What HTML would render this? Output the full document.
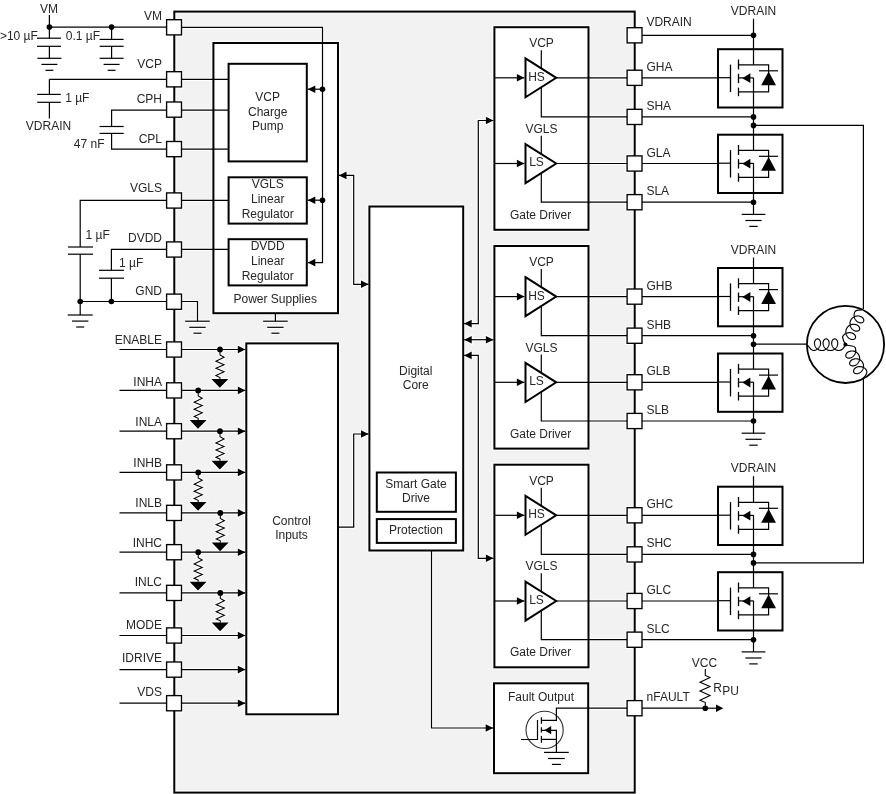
<!DOCTYPE html>
<html><head><meta charset="utf-8"><style>
html,body{margin:0;padding:0;background:#fff;}
svg{display:block;will-change:transform;}
text{font-family:"Liberation Sans",sans-serif;}
</style></head><body>
<svg width="886" height="794" viewBox="0 0 886 794">
<rect width="886" height="794" fill="#fff"/>
<rect x="174.3" y="11.6" width="460.4" height="781" fill="#f2f2f2" stroke="#000" stroke-width="2"/>
<rect x="174.3" y="11.6" width="460.4" height="781" fill="none" stroke="#fff" stroke-width="4"/>
<line x1="49.4" y1="15" x2="49.4" y2="38.2" stroke="#fff" stroke-width="3.2"/>
<line x1="49.4" y1="27.1" x2="174" y2="27.1" stroke="#fff" stroke-width="3.2"/>
<circle cx="49.4" cy="27.1" r="3.8" fill="#fff"/>
<circle cx="111.6" cy="27.1" r="3.8" fill="#fff"/>
<line x1="37" y1="38.2" x2="61" y2="38.2" stroke="#fff" stroke-width="3.2"/>
<line x1="37" y1="46.3" x2="61" y2="46.3" stroke="#fff" stroke-width="3.2"/>
<line x1="49.4" y1="46.3" x2="49.4" y2="58.3" stroke="#fff" stroke-width="3.2"/>
<line x1="37.4" y1="58.3" x2="61.4" y2="58.3" stroke="#fff" stroke-width="3.2"/>
<line x1="41.4" y1="64.39999999999999" x2="57.4" y2="64.39999999999999" stroke="#fff" stroke-width="3.2"/>
<line x1="45.4" y1="70.3" x2="53.4" y2="70.3" stroke="#fff" stroke-width="3.2"/>
<line x1="111.6" y1="27.1" x2="111.6" y2="39.4" stroke="#fff" stroke-width="3.2"/>
<line x1="99.6" y1="39.4" x2="123.6" y2="39.4" stroke="#fff" stroke-width="3.2"/>
<line x1="99.6" y1="46.3" x2="123.6" y2="46.3" stroke="#fff" stroke-width="3.2"/>
<line x1="111.6" y1="46.3" x2="111.6" y2="58.3" stroke="#fff" stroke-width="3.2"/>
<line x1="99.6" y1="58.3" x2="123.6" y2="58.3" stroke="#fff" stroke-width="3.2"/>
<line x1="103.6" y1="64.39999999999999" x2="119.6" y2="64.39999999999999" stroke="#fff" stroke-width="3.2"/>
<line x1="107.6" y1="70.3" x2="115.6" y2="70.3" stroke="#fff" stroke-width="3.2"/>
<line x1="49.4" y1="79.3" x2="174" y2="79.3" stroke="#fff" stroke-width="3.2"/>
<line x1="49.4" y1="79.3" x2="49.4" y2="94.4" stroke="#fff" stroke-width="3.2"/>
<line x1="37.2" y1="94.4" x2="60.8" y2="94.4" stroke="#fff" stroke-width="3.2"/>
<line x1="37.2" y1="102.3" x2="60.8" y2="102.3" stroke="#fff" stroke-width="3.2"/>
<line x1="49.4" y1="102.3" x2="49.4" y2="118.6" stroke="#fff" stroke-width="3.2"/>
<polyline points="174,110.2 111.6,110.2 111.6,126.5" fill="none" stroke="#fff" stroke-width="3.2" stroke-linejoin="miter"/>
<line x1="99.6" y1="126.5" x2="123.7" y2="126.5" stroke="#fff" stroke-width="3.2"/>
<line x1="99.6" y1="133.4" x2="123.7" y2="133.4" stroke="#fff" stroke-width="3.2"/>
<polyline points="111.6,133.4 111.6,149.2 174,149.2" fill="none" stroke="#fff" stroke-width="3.2" stroke-linejoin="miter"/>
<polyline points="174,200.3 80.2,200.3 80.2,247" fill="none" stroke="#fff" stroke-width="3.2" stroke-linejoin="miter"/>
<line x1="68" y1="247" x2="93" y2="247" stroke="#fff" stroke-width="3.2"/>
<line x1="68" y1="254.2" x2="93" y2="254.2" stroke="#fff" stroke-width="3.2"/>
<line x1="80.2" y1="254.2" x2="80.2" y2="315" stroke="#fff" stroke-width="3.2"/>
<line x1="67.7" y1="315" x2="92.7" y2="315" stroke="#fff" stroke-width="3.2"/>
<line x1="72.0" y1="321.1" x2="88.4" y2="321.1" stroke="#fff" stroke-width="3.2"/>
<line x1="76.2" y1="327.0" x2="84.2" y2="327.0" stroke="#fff" stroke-width="3.2"/>
<polyline points="174,249.3 111.4,249.3 111.4,270.3" fill="none" stroke="#fff" stroke-width="3.2" stroke-linejoin="miter"/>
<line x1="99" y1="270.3" x2="124" y2="270.3" stroke="#fff" stroke-width="3.2"/>
<line x1="99" y1="278.2" x2="124" y2="278.2" stroke="#fff" stroke-width="3.2"/>
<line x1="111.4" y1="278.2" x2="111.4" y2="301.5" stroke="#fff" stroke-width="3.2"/>
<line x1="80.2" y1="301.5" x2="174" y2="301.5" stroke="#fff" stroke-width="3.2"/>
<circle cx="80.2" cy="301.5" r="3.8" fill="#fff"/>
<circle cx="111.4" cy="301.5" r="3.8" fill="#fff"/>
<polyline points="174,301.5 197.5,301.5 197.5,321.2" fill="none" stroke="#fff" stroke-width="3.2" stroke-linejoin="miter"/>
<line x1="185.2" y1="321.2" x2="209.8" y2="321.2" stroke="#fff" stroke-width="3.2"/>
<line x1="189.3" y1="327.3" x2="205.7" y2="327.3" stroke="#fff" stroke-width="3.2"/>
<line x1="193.5" y1="333.2" x2="201.5" y2="333.2" stroke="#fff" stroke-width="3.2"/>
<rect x="213.4" y="43" width="124.60" height="270.20" fill="#fff" stroke="#fff" stroke-width="4.0"/>
<line x1="263.09999999999997" y1="321.2" x2="287.7" y2="321.2" stroke="#fff" stroke-width="3.2"/>
<line x1="267.2" y1="327.3" x2="283.59999999999997" y2="327.3" stroke="#fff" stroke-width="3.2"/>
<line x1="271.4" y1="333.2" x2="279.4" y2="333.2" stroke="#fff" stroke-width="3.2"/>
<line x1="275.4" y1="313.2" x2="275.4" y2="321.2" stroke="#fff" stroke-width="3.2"/>
<rect x="228.6" y="63.8" width="78.20" height="97.60" fill="#fff" stroke="#fff" stroke-width="4.0"/>
<rect x="228.6" y="177.3" width="78.20" height="46.30" fill="#fff" stroke="#fff" stroke-width="4.0"/>
<rect x="228.6" y="239.2" width="78.20" height="46.20" fill="#fff" stroke="#fff" stroke-width="4.0"/>
<line x1="181.3" y1="79.4" x2="228.6" y2="79.4" stroke="#fff" stroke-width="3.2"/>
<line x1="181.3" y1="110.2" x2="228.6" y2="110.2" stroke="#fff" stroke-width="3.2"/>
<line x1="181.3" y1="149.2" x2="228.6" y2="149.2" stroke="#fff" stroke-width="3.2"/>
<line x1="181.3" y1="200.3" x2="228.6" y2="200.3" stroke="#fff" stroke-width="3.2"/>
<line x1="181.3" y1="249.3" x2="228.6" y2="249.3" stroke="#fff" stroke-width="3.2"/>
<polyline points="181.3,27.4 322.5,27.4 322.5,262.6 307.8,262.6" fill="none" stroke="#fff" stroke-width="3.2" stroke-linejoin="miter"/>
<line x1="307.8" y1="89.2" x2="322.5" y2="89.2" stroke="#fff" stroke-width="3.2"/>
<line x1="307.8" y1="200.2" x2="322.5" y2="200.2" stroke="#fff" stroke-width="3.2"/>
<circle cx="322.5" cy="89.2" r="3.8" fill="#fff"/>
<circle cx="322.5" cy="200.2" r="3.8" fill="#fff"/>
<polygon points="307.8,89.2 315.3,85.4 315.3,93.0" fill="#fff" stroke="#fff" stroke-width="2.0"/>
<polygon points="307.8,200.2 315.3,196.39999999999998 315.3,204.0" fill="#fff" stroke="#fff" stroke-width="2.0"/>
<polygon points="307.8,262.6 315.3,258.8 315.3,266.40000000000003" fill="#fff" stroke="#fff" stroke-width="2.0"/>
<polyline points="339,175.4 353.7,175.4 353.7,284.3 368.5,284.3" fill="none" stroke="#fff" stroke-width="3.2" stroke-linejoin="miter"/>
<polygon points="339,175.4 346.5,171.6 346.5,179.20000000000002" fill="#fff" stroke="#fff" stroke-width="2.0"/>
<polygon points="368.5,284.3 361.0,280.5 361.0,288.1" fill="#fff" stroke="#fff" stroke-width="2.0"/>
<rect x="246.3" y="343.4" width="91.70" height="370.90" fill="#fff" stroke="#fff" stroke-width="4.0"/>
<polyline points="338,527.2 353.7,527.2 353.7,434 368.5,434" fill="none" stroke="#fff" stroke-width="3.2" stroke-linejoin="miter"/>
<polygon points="368.5,434 361.0,430.2 361.0,437.8" fill="#fff" stroke="#fff" stroke-width="2.0"/>
<line x1="119.5" y1="349.5" x2="174" y2="349.5" stroke="#fff" stroke-width="3.2"/>
<line x1="181.3" y1="349.5" x2="245.3" y2="349.5" stroke="#fff" stroke-width="3.2"/>
<polygon points="245.3,349.5 237.8,345.7 237.8,353.3" fill="#fff" stroke="#fff" stroke-width="2.0"/>
<circle cx="220" cy="349.5" r="3.9" fill="#fff"/>
<polyline points="220,349.5 220,355.0 224.1,357.3 215.9,361.3 224.1,364.7 215.9,368.3 224.1,371.8 215.9,375.5 220,377.5 220,379.1" fill="none" stroke="#fff" stroke-width="3.05" stroke-linejoin="miter"/>
<polygon points="211.4,379.1 228.4,379.1 219.8,387.8" fill="#fff" stroke="#fff" stroke-width="2.0"/>
<line x1="119.5" y1="390.4" x2="174" y2="390.4" stroke="#fff" stroke-width="3.2"/>
<line x1="181.3" y1="390.4" x2="245.3" y2="390.4" stroke="#fff" stroke-width="3.2"/>
<polygon points="245.3,390.4 237.8,386.59999999999997 237.8,394.2" fill="#fff" stroke="#fff" stroke-width="2.0"/>
<circle cx="198.2" cy="390.4" r="3.9" fill="#fff"/>
<polyline points="198.2,390.4 198.2,395.9 202.29999999999998,398.2 194.1,402.2 202.29999999999998,405.59999999999997 194.1,409.2 202.29999999999998,412.7 194.1,416.4 198.2,418.4 198.2,420.0" fill="none" stroke="#fff" stroke-width="3.05" stroke-linejoin="miter"/>
<polygon points="189.6,420.0 206.6,420.0 198.0,428.7" fill="#fff" stroke="#fff" stroke-width="2.0"/>
<line x1="119.5" y1="431.2" x2="174" y2="431.2" stroke="#fff" stroke-width="3.2"/>
<line x1="181.3" y1="431.2" x2="245.3" y2="431.2" stroke="#fff" stroke-width="3.2"/>
<polygon points="245.3,431.2 237.8,427.4 237.8,435.0" fill="#fff" stroke="#fff" stroke-width="2.0"/>
<circle cx="220" cy="431.2" r="3.9" fill="#fff"/>
<polyline points="220,431.2 220,436.7 224.1,439.0 215.9,443.0 224.1,446.4 215.9,450.0 224.1,453.5 215.9,457.2 220,459.2 220,460.8" fill="none" stroke="#fff" stroke-width="3.05" stroke-linejoin="miter"/>
<polygon points="211.4,460.8 228.4,460.8 219.8,469.5" fill="#fff" stroke="#fff" stroke-width="2.0"/>
<line x1="119.5" y1="472.4" x2="174" y2="472.4" stroke="#fff" stroke-width="3.2"/>
<line x1="181.3" y1="472.4" x2="245.3" y2="472.4" stroke="#fff" stroke-width="3.2"/>
<polygon points="245.3,472.4 237.8,468.59999999999997 237.8,476.2" fill="#fff" stroke="#fff" stroke-width="2.0"/>
<circle cx="198.2" cy="472.4" r="3.9" fill="#fff"/>
<polyline points="198.2,472.4 198.2,477.9 202.29999999999998,480.2 194.1,484.2 202.29999999999998,487.59999999999997 194.1,491.2 202.29999999999998,494.7 194.1,498.4 198.2,500.4 198.2,502.0" fill="none" stroke="#fff" stroke-width="3.05" stroke-linejoin="miter"/>
<polygon points="189.6,502.0 206.6,502.0 198.0,510.7" fill="#fff" stroke="#fff" stroke-width="2.0"/>
<line x1="119.5" y1="512.9" x2="174" y2="512.9" stroke="#fff" stroke-width="3.2"/>
<line x1="181.3" y1="512.9" x2="245.3" y2="512.9" stroke="#fff" stroke-width="3.2"/>
<polygon points="245.3,512.9 237.8,509.09999999999997 237.8,516.6999999999999" fill="#fff" stroke="#fff" stroke-width="2.0"/>
<circle cx="220.3" cy="512.9" r="3.9" fill="#fff"/>
<polyline points="220.3,512.9 220.3,518.4 224.4,520.6999999999999 216.20000000000002,524.6999999999999 224.4,528.1 216.20000000000002,531.6999999999999 224.4,535.1999999999999 216.20000000000002,538.9 220.3,540.9 220.3,542.5" fill="none" stroke="#fff" stroke-width="3.05" stroke-linejoin="miter"/>
<polygon points="211.70000000000002,542.5 228.70000000000002,542.5 220.10000000000002,551.1999999999999" fill="#fff" stroke="#fff" stroke-width="2.0"/>
<line x1="119.5" y1="552.2" x2="174" y2="552.2" stroke="#fff" stroke-width="3.2"/>
<line x1="181.3" y1="552.2" x2="245.3" y2="552.2" stroke="#fff" stroke-width="3.2"/>
<polygon points="245.3,552.2 237.8,548.4000000000001 237.8,556.0" fill="#fff" stroke="#fff" stroke-width="2.0"/>
<circle cx="198.2" cy="552.2" r="3.9" fill="#fff"/>
<polyline points="198.2,552.2 198.2,557.7 202.29999999999998,560.0 194.1,564.0 202.29999999999998,567.4000000000001 194.1,571.0 202.29999999999998,574.5 194.1,578.2 198.2,580.2 198.2,581.8000000000001" fill="none" stroke="#fff" stroke-width="3.05" stroke-linejoin="miter"/>
<polygon points="189.6,581.8000000000001 206.6,581.8000000000001 198.0,590.5" fill="#fff" stroke="#fff" stroke-width="2.0"/>
<line x1="119.5" y1="592.9" x2="174" y2="592.9" stroke="#fff" stroke-width="3.2"/>
<line x1="181.3" y1="592.9" x2="245.3" y2="592.9" stroke="#fff" stroke-width="3.2"/>
<polygon points="245.3,592.9 237.8,589.1 237.8,596.6999999999999" fill="#fff" stroke="#fff" stroke-width="2.0"/>
<circle cx="220.3" cy="592.9" r="3.9" fill="#fff"/>
<polyline points="220.3,592.9 220.3,598.4 224.4,600.6999999999999 216.20000000000002,604.6999999999999 224.4,608.1 216.20000000000002,611.6999999999999 224.4,615.1999999999999 216.20000000000002,618.9 220.3,620.9 220.3,622.5" fill="none" stroke="#fff" stroke-width="3.05" stroke-linejoin="miter"/>
<polygon points="211.70000000000002,622.5 228.70000000000002,622.5 220.10000000000002,631.1999999999999" fill="#fff" stroke="#fff" stroke-width="2.0"/>
<line x1="119.5" y1="635.5" x2="174" y2="635.5" stroke="#fff" stroke-width="3.2"/>
<line x1="181.3" y1="635.5" x2="245.3" y2="635.5" stroke="#fff" stroke-width="3.2"/>
<polygon points="245.3,635.5 237.8,631.7 237.8,639.3" fill="#fff" stroke="#fff" stroke-width="2.0"/>
<line x1="119.5" y1="669.6" x2="174" y2="669.6" stroke="#fff" stroke-width="3.2"/>
<line x1="181.3" y1="669.6" x2="245.3" y2="669.6" stroke="#fff" stroke-width="3.2"/>
<polygon points="245.3,669.6 237.8,665.8000000000001 237.8,673.4" fill="#fff" stroke="#fff" stroke-width="2.0"/>
<line x1="119.5" y1="703.2" x2="174" y2="703.2" stroke="#fff" stroke-width="3.2"/>
<line x1="181.3" y1="703.2" x2="245.3" y2="703.2" stroke="#fff" stroke-width="3.2"/>
<polygon points="245.3,703.2 237.8,699.4000000000001 237.8,707.0" fill="#fff" stroke="#fff" stroke-width="2.0"/>
<rect x="166.6" y="19.700000000000003" width="14.90" height="15.20" fill="#fff" stroke="#fff" stroke-width="3.35"/>
<rect x="166.6" y="71.7" width="14.90" height="15.20" fill="#fff" stroke="#fff" stroke-width="3.35"/>
<rect x="166.6" y="102.0" width="14.90" height="15.20" fill="#fff" stroke="#fff" stroke-width="3.35"/>
<rect x="166.6" y="141.5" width="14.90" height="15.20" fill="#fff" stroke="#fff" stroke-width="3.35"/>
<rect x="166.6" y="192.9" width="14.90" height="15.20" fill="#fff" stroke="#fff" stroke-width="3.35"/>
<rect x="166.6" y="241.9" width="14.90" height="15.20" fill="#fff" stroke="#fff" stroke-width="3.35"/>
<rect x="166.6" y="294.09999999999997" width="14.90" height="15.20" fill="#fff" stroke="#fff" stroke-width="3.35"/>
<rect x="166.6" y="341.9" width="14.90" height="15.20" fill="#fff" stroke="#fff" stroke-width="3.35"/>
<rect x="166.6" y="382.79999999999995" width="14.90" height="15.20" fill="#fff" stroke="#fff" stroke-width="3.35"/>
<rect x="166.6" y="423.59999999999997" width="14.90" height="15.20" fill="#fff" stroke="#fff" stroke-width="3.35"/>
<rect x="166.6" y="464.79999999999995" width="14.90" height="15.20" fill="#fff" stroke="#fff" stroke-width="3.35"/>
<rect x="166.6" y="505.29999999999995" width="14.90" height="15.20" fill="#fff" stroke="#fff" stroke-width="3.35"/>
<rect x="166.6" y="544.6" width="14.90" height="15.20" fill="#fff" stroke="#fff" stroke-width="3.35"/>
<rect x="166.6" y="585.3" width="14.90" height="15.20" fill="#fff" stroke="#fff" stroke-width="3.35"/>
<rect x="166.6" y="627.9" width="14.90" height="15.20" fill="#fff" stroke="#fff" stroke-width="3.35"/>
<rect x="166.6" y="662.0" width="14.90" height="15.20" fill="#fff" stroke="#fff" stroke-width="3.35"/>
<rect x="166.6" y="695.6" width="14.90" height="15.20" fill="#fff" stroke="#fff" stroke-width="3.35"/>
<rect x="369.4" y="206.5" width="93.80" height="344.00" fill="#fff" stroke="#fff" stroke-width="4.0"/>
<rect x="376.8" y="472.5" width="79.10" height="39.30" fill="#fff" stroke="#fff" stroke-width="4.0"/>
<rect x="376.8" y="519.1" width="79.10" height="23.80" fill="#fff" stroke="#fff" stroke-width="4.0"/>
<polyline points="464.2,323.6 478.3,323.6 478.3,120.5 493.4,120.5" fill="none" stroke="#fff" stroke-width="3.2" stroke-linejoin="miter"/>
<polygon points="464.2,323.6 471.7,319.8 471.7,327.40000000000003" fill="#fff" stroke="#fff" stroke-width="2.0"/>
<polygon points="493.4,120.5 485.9,116.7 485.9,124.3" fill="#fff" stroke="#fff" stroke-width="2.0"/>
<line x1="464.2" y1="339.7" x2="493.4" y2="339.7" stroke="#fff" stroke-width="3.2"/>
<polygon points="464.2,339.7 471.7,335.9 471.7,343.5" fill="#fff" stroke="#fff" stroke-width="2.0"/>
<polygon points="493.4,339.7 485.9,335.9 485.9,343.5" fill="#fff" stroke="#fff" stroke-width="2.0"/>
<polyline points="464.2,355.4 478.3,355.4 478.3,558.3 493.4,558.3" fill="none" stroke="#fff" stroke-width="3.2" stroke-linejoin="miter"/>
<polygon points="464.2,355.4 471.7,351.59999999999997 471.7,359.2" fill="#fff" stroke="#fff" stroke-width="2.0"/>
<polygon points="493.4,558.3 485.9,554.5 485.9,562.0999999999999" fill="#fff" stroke="#fff" stroke-width="2.0"/>
<polyline points="431.5,550.5 431.5,728 493.2,728" fill="none" stroke="#fff" stroke-width="3.2" stroke-linejoin="miter"/>
<polygon points="493.2,728 485.7,724.2 485.7,731.8" fill="#fff" stroke="#fff" stroke-width="2.0"/>
<rect x="494.4" y="27.2" width="94.10" height="202.60" fill="#fff" stroke="#fff" stroke-width="4.0"/>
<line x1="541.3" y1="50.3" x2="541.3" y2="68.3" stroke="#fff" stroke-width="3.2"/>
<line x1="494.4" y1="77.8" x2="524.4" y2="77.8" stroke="#fff" stroke-width="3.2"/>
<polygon points="524.4,77.8 516.9,74.0 516.9,81.6" fill="#fff" stroke="#fff" stroke-width="2.0"/>
<line x1="556.2" y1="77.8" x2="718" y2="77.8" stroke="#fff" stroke-width="3.2"/>
<polyline points="541.3,87.35 541.3,116.9 753.5,116.9" fill="none" stroke="#fff" stroke-width="3.2" stroke-linejoin="miter"/>
<line x1="541.3" y1="135.7" x2="541.3" y2="154.0" stroke="#fff" stroke-width="3.2"/>
<line x1="494.4" y1="163.5" x2="524.4" y2="163.5" stroke="#fff" stroke-width="3.2"/>
<polygon points="524.4,163.5 516.9,159.7 516.9,167.3" fill="#fff" stroke="#fff" stroke-width="2.0"/>
<line x1="556.2" y1="163.5" x2="718" y2="163.5" stroke="#fff" stroke-width="3.2"/>
<polyline points="541.3,173.15 541.3,202.2 753.5,202.2" fill="none" stroke="#fff" stroke-width="3.2" stroke-linejoin="miter"/>
<rect x="718" y="49.199999999999996" width="64.50" height="58.30" fill="#fff" stroke="#fff" stroke-width="4.0"/>
<line x1="730.5" y1="64.6" x2="730.5" y2="92.1" stroke="#fff" stroke-width="3.3"/>
<line x1="717" y1="77.69999999999999" x2="730.5" y2="77.69999999999999" stroke="#fff" stroke-width="3.2"/>
<line x1="738.5" y1="59.5" x2="738.5" y2="69.5" stroke="#fff" stroke-width="3.3"/>
<line x1="738.5" y1="73.69999999999999" x2="738.5" y2="83.1" stroke="#fff" stroke-width="3.3"/>
<line x1="738.5" y1="87.6" x2="738.5" y2="96.19999999999999" stroke="#fff" stroke-width="3.3"/>
<polyline points="738.5,64.8 768.6,64.8 768.6,91.8 738.5,91.8" fill="none" stroke="#fff" stroke-width="3.2" stroke-linejoin="miter"/>
<line x1="738.5" y1="77.89999999999999" x2="753.5" y2="77.89999999999999" stroke="#fff" stroke-width="3.2"/>
<polygon points="742.3,78.19999999999999 750.4,73.3 750.4,83.1" fill="#fff" stroke="#fff" stroke-width="2.0"/>
<line x1="759" y1="70.8" x2="778" y2="70.8" stroke="#fff" stroke-width="3.2"/>
<polygon points="768.6,71.39999999999999 761.2,85.19999999999999 776,85.19999999999999" fill="#fff" stroke="#fff" stroke-width="2.0"/>
<rect x="718" y="134.7" width="64.50" height="58.30" fill="#fff" stroke="#fff" stroke-width="4.0"/>
<line x1="730.5" y1="150.1" x2="730.5" y2="177.6" stroke="#fff" stroke-width="3.3"/>
<line x1="717" y1="163.2" x2="730.5" y2="163.2" stroke="#fff" stroke-width="3.2"/>
<line x1="738.5" y1="145.0" x2="738.5" y2="155.0" stroke="#fff" stroke-width="3.3"/>
<line x1="738.5" y1="159.2" x2="738.5" y2="168.6" stroke="#fff" stroke-width="3.3"/>
<line x1="738.5" y1="173.1" x2="738.5" y2="181.7" stroke="#fff" stroke-width="3.3"/>
<polyline points="738.5,150.29999999999998 768.6,150.29999999999998 768.6,177.29999999999998 738.5,177.29999999999998" fill="none" stroke="#fff" stroke-width="3.2" stroke-linejoin="miter"/>
<line x1="738.5" y1="163.39999999999998" x2="753.5" y2="163.39999999999998" stroke="#fff" stroke-width="3.2"/>
<polygon points="742.3,163.7 750.4,158.79999999999998 750.4,168.6" fill="#fff" stroke="#fff" stroke-width="2.0"/>
<line x1="759" y1="156.29999999999998" x2="778" y2="156.29999999999998" stroke="#fff" stroke-width="3.2"/>
<polygon points="768.6,156.89999999999998 761.2,170.7 776,170.7" fill="#fff" stroke="#fff" stroke-width="2.0"/>
<line x1="753.5" y1="77.69999999999999" x2="753.5" y2="116.9" stroke="#fff" stroke-width="3.2"/>
<line x1="753.5" y1="116.9" x2="753.5" y2="150.2" stroke="#fff" stroke-width="3.2"/>
<line x1="753.5" y1="163.2" x2="753.5" y2="214.39999999999998" stroke="#fff" stroke-width="3.2"/>
<circle cx="753.5" cy="116.9" r="3.8" fill="#fff"/>
<circle cx="753.5" cy="125.4" r="3.8" fill="#fff"/>
<circle cx="753.5" cy="202.2" r="3.8" fill="#fff"/>
<line x1="741.65" y1="214.39999999999998" x2="765.35" y2="214.39999999999998" stroke="#fff" stroke-width="3.2"/>
<line x1="745.4" y1="220.49999999999997" x2="761.6" y2="220.49999999999997" stroke="#fff" stroke-width="3.2"/>
<line x1="749.3" y1="226.39999999999998" x2="757.7" y2="226.39999999999998" stroke="#fff" stroke-width="3.2"/>
<line x1="753.5" y1="18.7" x2="753.5" y2="64.69999999999999" stroke="#fff" stroke-width="3.2"/>
<line x1="641.8" y1="35.3" x2="753.5" y2="35.3" stroke="#fff" stroke-width="3.2"/>
<circle cx="753.5" cy="35.3" r="3.8" fill="#fff"/>
<rect x="494.4" y="246" width="94.10" height="202.60" fill="#fff" stroke="#fff" stroke-width="4.0"/>
<line x1="541.3" y1="269.1" x2="541.3" y2="287.09999999999997" stroke="#fff" stroke-width="3.2"/>
<line x1="494.4" y1="296.6" x2="524.4" y2="296.6" stroke="#fff" stroke-width="3.2"/>
<polygon points="524.4,296.6 516.9,292.8 516.9,300.40000000000003" fill="#fff" stroke="#fff" stroke-width="2.0"/>
<line x1="556.2" y1="296.6" x2="718" y2="296.6" stroke="#fff" stroke-width="3.2"/>
<polyline points="541.3,306.15000000000003 541.3,335.7 753.5,335.7" fill="none" stroke="#fff" stroke-width="3.2" stroke-linejoin="miter"/>
<line x1="541.3" y1="354.5" x2="541.3" y2="372.8" stroke="#fff" stroke-width="3.2"/>
<line x1="494.4" y1="382.3" x2="524.4" y2="382.3" stroke="#fff" stroke-width="3.2"/>
<polygon points="524.4,382.3 516.9,378.5 516.9,386.1" fill="#fff" stroke="#fff" stroke-width="2.0"/>
<line x1="556.2" y1="382.3" x2="718" y2="382.3" stroke="#fff" stroke-width="3.2"/>
<polyline points="541.3,391.95 541.3,421.0 753.5,421.0" fill="none" stroke="#fff" stroke-width="3.2" stroke-linejoin="miter"/>
<rect x="718" y="268.0" width="64.50" height="58.30" fill="#fff" stroke="#fff" stroke-width="4.0"/>
<line x1="730.5" y1="283.4" x2="730.5" y2="310.9" stroke="#fff" stroke-width="3.3"/>
<line x1="717" y1="296.5" x2="730.5" y2="296.5" stroke="#fff" stroke-width="3.2"/>
<line x1="738.5" y1="278.3" x2="738.5" y2="288.3" stroke="#fff" stroke-width="3.3"/>
<line x1="738.5" y1="292.5" x2="738.5" y2="301.9" stroke="#fff" stroke-width="3.3"/>
<line x1="738.5" y1="306.4" x2="738.5" y2="315.0" stroke="#fff" stroke-width="3.3"/>
<polyline points="738.5,283.6 768.6,283.6 768.6,310.6 738.5,310.6" fill="none" stroke="#fff" stroke-width="3.2" stroke-linejoin="miter"/>
<line x1="738.5" y1="296.7" x2="753.5" y2="296.7" stroke="#fff" stroke-width="3.2"/>
<polygon points="742.3,297.0 750.4,292.1 750.4,301.9" fill="#fff" stroke="#fff" stroke-width="2.0"/>
<line x1="759" y1="289.6" x2="778" y2="289.6" stroke="#fff" stroke-width="3.2"/>
<polygon points="768.6,290.2 761.2,304.0 776,304.0" fill="#fff" stroke="#fff" stroke-width="2.0"/>
<rect x="718" y="353.5" width="64.50" height="58.30" fill="#fff" stroke="#fff" stroke-width="4.0"/>
<line x1="730.5" y1="368.9" x2="730.5" y2="396.4" stroke="#fff" stroke-width="3.3"/>
<line x1="717" y1="382.0" x2="730.5" y2="382.0" stroke="#fff" stroke-width="3.2"/>
<line x1="738.5" y1="363.8" x2="738.5" y2="373.8" stroke="#fff" stroke-width="3.3"/>
<line x1="738.5" y1="378.0" x2="738.5" y2="387.4" stroke="#fff" stroke-width="3.3"/>
<line x1="738.5" y1="391.9" x2="738.5" y2="400.5" stroke="#fff" stroke-width="3.3"/>
<polyline points="738.5,369.1 768.6,369.1 768.6,396.1 738.5,396.1" fill="none" stroke="#fff" stroke-width="3.2" stroke-linejoin="miter"/>
<line x1="738.5" y1="382.2" x2="753.5" y2="382.2" stroke="#fff" stroke-width="3.2"/>
<polygon points="742.3,382.5 750.4,377.6 750.4,387.4" fill="#fff" stroke="#fff" stroke-width="2.0"/>
<line x1="759" y1="375.1" x2="778" y2="375.1" stroke="#fff" stroke-width="3.2"/>
<polygon points="768.6,375.7 761.2,389.5 776,389.5" fill="#fff" stroke="#fff" stroke-width="2.0"/>
<line x1="753.5" y1="296.5" x2="753.5" y2="335.7" stroke="#fff" stroke-width="3.2"/>
<line x1="753.5" y1="335.7" x2="753.5" y2="369.0" stroke="#fff" stroke-width="3.2"/>
<line x1="753.5" y1="382.0" x2="753.5" y2="433.2" stroke="#fff" stroke-width="3.2"/>
<circle cx="753.5" cy="335.7" r="3.8" fill="#fff"/>
<circle cx="753.5" cy="344.2" r="3.8" fill="#fff"/>
<circle cx="753.5" cy="421.0" r="3.8" fill="#fff"/>
<line x1="741.65" y1="433.2" x2="765.35" y2="433.2" stroke="#fff" stroke-width="3.2"/>
<line x1="745.4" y1="439.3" x2="761.6" y2="439.3" stroke="#fff" stroke-width="3.2"/>
<line x1="749.3" y1="445.2" x2="757.7" y2="445.2" stroke="#fff" stroke-width="3.2"/>
<line x1="753.5" y1="257.5" x2="753.5" y2="283.5" stroke="#fff" stroke-width="3.2"/>
<rect x="494.4" y="464.7" width="94.10" height="202.60" fill="#fff" stroke="#fff" stroke-width="4.0"/>
<line x1="541.3" y1="487.8" x2="541.3" y2="505.79999999999995" stroke="#fff" stroke-width="3.2"/>
<line x1="494.4" y1="515.3" x2="524.4" y2="515.3" stroke="#fff" stroke-width="3.2"/>
<polygon points="524.4,515.3 516.9,511.49999999999994 516.9,519.0999999999999" fill="#fff" stroke="#fff" stroke-width="2.0"/>
<line x1="556.2" y1="515.3" x2="718" y2="515.3" stroke="#fff" stroke-width="3.2"/>
<polyline points="541.3,524.8499999999999 541.3,554.4 753.5,554.4" fill="none" stroke="#fff" stroke-width="3.2" stroke-linejoin="miter"/>
<line x1="541.3" y1="573.2" x2="541.3" y2="591.5" stroke="#fff" stroke-width="3.2"/>
<line x1="494.4" y1="601.0" x2="524.4" y2="601.0" stroke="#fff" stroke-width="3.2"/>
<polygon points="524.4,601.0 516.9,597.2 516.9,604.8" fill="#fff" stroke="#fff" stroke-width="2.0"/>
<line x1="556.2" y1="601.0" x2="718" y2="601.0" stroke="#fff" stroke-width="3.2"/>
<polyline points="541.3,610.65 541.3,639.7 753.5,639.7" fill="none" stroke="#fff" stroke-width="3.2" stroke-linejoin="miter"/>
<rect x="718" y="486.69999999999993" width="64.50" height="58.30" fill="#fff" stroke="#fff" stroke-width="4.0"/>
<line x1="730.5" y1="502.0999999999999" x2="730.5" y2="529.5999999999999" stroke="#fff" stroke-width="3.3"/>
<line x1="717" y1="515.1999999999999" x2="730.5" y2="515.1999999999999" stroke="#fff" stroke-width="3.2"/>
<line x1="738.5" y1="496.99999999999994" x2="738.5" y2="506.99999999999994" stroke="#fff" stroke-width="3.3"/>
<line x1="738.5" y1="511.19999999999993" x2="738.5" y2="520.5999999999999" stroke="#fff" stroke-width="3.3"/>
<line x1="738.5" y1="525.0999999999999" x2="738.5" y2="533.6999999999999" stroke="#fff" stroke-width="3.3"/>
<polyline points="738.5,502.29999999999995 768.6,502.29999999999995 768.6,529.3 738.5,529.3" fill="none" stroke="#fff" stroke-width="3.2" stroke-linejoin="miter"/>
<line x1="738.5" y1="515.4" x2="753.5" y2="515.4" stroke="#fff" stroke-width="3.2"/>
<polygon points="742.3,515.6999999999999 750.4,510.79999999999995 750.4,520.5999999999999" fill="#fff" stroke="#fff" stroke-width="2.0"/>
<line x1="759" y1="508.29999999999995" x2="778" y2="508.29999999999995" stroke="#fff" stroke-width="3.2"/>
<polygon points="768.6,508.8999999999999 761.2,522.6999999999999 776,522.6999999999999" fill="#fff" stroke="#fff" stroke-width="2.0"/>
<rect x="718" y="572.2" width="64.50" height="58.30" fill="#fff" stroke="#fff" stroke-width="4.0"/>
<line x1="730.5" y1="587.6" x2="730.5" y2="615.1" stroke="#fff" stroke-width="3.3"/>
<line x1="717" y1="600.7" x2="730.5" y2="600.7" stroke="#fff" stroke-width="3.2"/>
<line x1="738.5" y1="582.5" x2="738.5" y2="592.5" stroke="#fff" stroke-width="3.3"/>
<line x1="738.5" y1="596.7" x2="738.5" y2="606.1" stroke="#fff" stroke-width="3.3"/>
<line x1="738.5" y1="610.6" x2="738.5" y2="619.2" stroke="#fff" stroke-width="3.3"/>
<polyline points="738.5,587.8000000000001 768.6,587.8000000000001 768.6,614.8000000000001 738.5,614.8000000000001" fill="none" stroke="#fff" stroke-width="3.2" stroke-linejoin="miter"/>
<line x1="738.5" y1="600.9000000000001" x2="753.5" y2="600.9000000000001" stroke="#fff" stroke-width="3.2"/>
<polygon points="742.3,601.2 750.4,596.3000000000001 750.4,606.1" fill="#fff" stroke="#fff" stroke-width="2.0"/>
<line x1="759" y1="593.8000000000001" x2="778" y2="593.8000000000001" stroke="#fff" stroke-width="3.2"/>
<polygon points="768.6,594.4000000000001 761.2,608.2 776,608.2" fill="#fff" stroke="#fff" stroke-width="2.0"/>
<line x1="753.5" y1="515.1999999999999" x2="753.5" y2="554.4" stroke="#fff" stroke-width="3.2"/>
<line x1="753.5" y1="554.4" x2="753.5" y2="587.7" stroke="#fff" stroke-width="3.2"/>
<line x1="753.5" y1="600.7" x2="753.5" y2="651.9" stroke="#fff" stroke-width="3.2"/>
<circle cx="753.5" cy="554.4" r="3.8" fill="#fff"/>
<circle cx="753.5" cy="562.9" r="3.8" fill="#fff"/>
<circle cx="753.5" cy="639.7" r="3.8" fill="#fff"/>
<line x1="741.65" y1="651.9" x2="765.35" y2="651.9" stroke="#fff" stroke-width="3.2"/>
<line x1="745.4" y1="658.0" x2="761.6" y2="658.0" stroke="#fff" stroke-width="3.2"/>
<line x1="749.3" y1="663.9" x2="757.7" y2="663.9" stroke="#fff" stroke-width="3.2"/>
<line x1="753.5" y1="476.2" x2="753.5" y2="502.19999999999993" stroke="#fff" stroke-width="3.2"/>
<polyline points="753.5,125.4 863.4,125.4 863.4,309" fill="none" stroke="#fff" stroke-width="3.2" stroke-linejoin="miter"/>
<polyline points="753.5,562.9 863.4,562.9 863.4,378" fill="none" stroke="#fff" stroke-width="3.2" stroke-linejoin="miter"/>
<line x1="753.5" y1="344.2" x2="806.5" y2="344.2" stroke="#fff" stroke-width="3.2"/>
<circle cx="845.4" cy="344.5" r="3" fill="#fff"/>
<rect x="494" y="683.3" width="94.20" height="89.90" fill="#fff" stroke="#fff" stroke-width="4.0"/>
<polyline points="556.4,752.4 556.4,730.4 541.4,730.4" fill="none" stroke="#fff" stroke-width="3.2" stroke-linejoin="miter"/>
<polyline points="541.4,720.4 556.4,720.4 556.4,708.2 705.3,708.2" fill="none" stroke="#fff" stroke-width="3.2" stroke-linejoin="miter"/>
<line x1="541.4" y1="739.4" x2="556.4" y2="739.4" stroke="#fff" stroke-width="3.2"/>
<line x1="541.4" y1="717.2" x2="541.4" y2="723.8" stroke="#fff" stroke-width="3.2"/>
<line x1="541.4" y1="727.3" x2="541.4" y2="732.6" stroke="#fff" stroke-width="3.2"/>
<line x1="541.4" y1="736.1" x2="541.4" y2="742.7" stroke="#fff" stroke-width="3.2"/>
<polyline points="521,739.5 537.5,739.5 537.5,720.1" fill="none" stroke="#fff" stroke-width="3.2" stroke-linejoin="miter"/>
<polygon points="544.3,730.2 551.2,726.1 551.2,734.3" fill="#fff" stroke="#fff" stroke-width="2.0"/>
<line x1="544.05" y1="752.4" x2="568.75" y2="752.4" stroke="#fff" stroke-width="3.2"/>
<line x1="548.0" y1="758.5" x2="564.8" y2="758.5" stroke="#fff" stroke-width="3.2"/>
<line x1="551.9" y1="764.4" x2="560.9" y2="764.4" stroke="#fff" stroke-width="3.2"/>
<line x1="705.3" y1="708.2" x2="716" y2="708.2" stroke="#fff" stroke-width="3.2"/>
<polygon points="723.3,708.2 716.0,704.5 716.0,711.9000000000001" fill="#fff" stroke="#fff" stroke-width="2.0"/>
<circle cx="705.3" cy="708.2" r="3.8" fill="#fff"/>
<polyline points="705.3,669 705.3,675.4 710,677.5 700,682.2 710,686.6 700,691.1 710,695.5 700,700.2 705.3,702.6 705.3,708.2" fill="none" stroke="#fff" stroke-width="3.1" stroke-linejoin="miter"/>
<rect x="627.1" y="27.699999999999996" width="14.90" height="15.20" fill="#fff" stroke="#fff" stroke-width="3.35"/>
<rect x="627.1" y="70.2" width="14.90" height="15.20" fill="#fff" stroke="#fff" stroke-width="3.35"/>
<rect x="627.1" y="109.30000000000001" width="14.90" height="15.20" fill="#fff" stroke="#fff" stroke-width="3.35"/>
<rect x="627.1" y="155.9" width="14.90" height="15.20" fill="#fff" stroke="#fff" stroke-width="3.35"/>
<rect x="627.1" y="194.6" width="14.90" height="15.20" fill="#fff" stroke="#fff" stroke-width="3.35"/>
<rect x="627.1" y="289.0" width="14.90" height="15.20" fill="#fff" stroke="#fff" stroke-width="3.35"/>
<rect x="627.1" y="328.09999999999997" width="14.90" height="15.20" fill="#fff" stroke="#fff" stroke-width="3.35"/>
<rect x="627.1" y="374.7" width="14.90" height="15.20" fill="#fff" stroke="#fff" stroke-width="3.35"/>
<rect x="627.1" y="413.4" width="14.90" height="15.20" fill="#fff" stroke="#fff" stroke-width="3.35"/>
<rect x="627.1" y="507.69999999999993" width="14.90" height="15.20" fill="#fff" stroke="#fff" stroke-width="3.35"/>
<rect x="627.1" y="546.8" width="14.90" height="15.20" fill="#fff" stroke="#fff" stroke-width="3.35"/>
<rect x="627.1" y="593.4" width="14.90" height="15.20" fill="#fff" stroke="#fff" stroke-width="3.35"/>
<rect x="627.1" y="632.1" width="14.90" height="15.20" fill="#fff" stroke="#fff" stroke-width="3.35"/>
<rect x="627.1" y="700.6" width="14.90" height="15.20" fill="#fff" stroke="#fff" stroke-width="3.35"/>
<rect x="174.3" y="11.6" width="460.4" height="781" fill="none" stroke="#000" stroke-width="2"/>
<text x="49" y="13" text-anchor="middle" font-size="12" fill="#262626">VM</text>
<line x1="49.4" y1="15" x2="49.4" y2="38.2" stroke="#000" stroke-width="1.2"/>
<line x1="49.4" y1="27.1" x2="174" y2="27.1" stroke="#000" stroke-width="1.2"/>
<circle cx="49.4" cy="27.1" r="2.8" fill="#000"/>
<circle cx="111.6" cy="27.1" r="2.8" fill="#000"/>
<line x1="37" y1="38.2" x2="61" y2="38.2" stroke="#000" stroke-width="1.2"/>
<line x1="37" y1="46.3" x2="61" y2="46.3" stroke="#000" stroke-width="1.2"/>
<line x1="49.4" y1="46.3" x2="49.4" y2="58.3" stroke="#000" stroke-width="1.2"/>
<line x1="37.4" y1="58.3" x2="61.4" y2="58.3" stroke="#000" stroke-width="1.2"/>
<line x1="41.4" y1="64.39999999999999" x2="57.4" y2="64.39999999999999" stroke="#000" stroke-width="1.2"/>
<line x1="45.4" y1="70.3" x2="53.4" y2="70.3" stroke="#000" stroke-width="1.2"/>
<line x1="111.6" y1="27.1" x2="111.6" y2="39.4" stroke="#000" stroke-width="1.2"/>
<line x1="99.6" y1="39.4" x2="123.6" y2="39.4" stroke="#000" stroke-width="1.2"/>
<line x1="99.6" y1="46.3" x2="123.6" y2="46.3" stroke="#000" stroke-width="1.2"/>
<line x1="111.6" y1="46.3" x2="111.6" y2="58.3" stroke="#000" stroke-width="1.2"/>
<line x1="99.6" y1="58.3" x2="123.6" y2="58.3" stroke="#000" stroke-width="1.2"/>
<line x1="103.6" y1="64.39999999999999" x2="119.6" y2="64.39999999999999" stroke="#000" stroke-width="1.2"/>
<line x1="107.6" y1="70.3" x2="115.6" y2="70.3" stroke="#000" stroke-width="1.2"/>
<text x="37.8" y="39.7" text-anchor="end" font-size="12" fill="#262626">&gt;10 µF</text>
<text x="100" y="39.7" text-anchor="end" font-size="12" fill="#262626">0.1 µF</text>
<line x1="49.4" y1="79.3" x2="174" y2="79.3" stroke="#000" stroke-width="1.2"/>
<line x1="49.4" y1="79.3" x2="49.4" y2="94.4" stroke="#000" stroke-width="1.2"/>
<line x1="37.2" y1="94.4" x2="60.8" y2="94.4" stroke="#000" stroke-width="1.2"/>
<line x1="37.2" y1="102.3" x2="60.8" y2="102.3" stroke="#000" stroke-width="1.2"/>
<line x1="49.4" y1="102.3" x2="49.4" y2="118.6" stroke="#000" stroke-width="1.2"/>
<text x="65.2" y="102" text-anchor="start" font-size="12" fill="#262626">1 µF</text>
<text x="48.5" y="129.7" text-anchor="middle" font-size="12" fill="#262626">VDRAIN</text>
<polyline points="174,110.2 111.6,110.2 111.6,126.5" fill="none" stroke="#000" stroke-width="1.2" stroke-linejoin="miter"/>
<line x1="99.6" y1="126.5" x2="123.7" y2="126.5" stroke="#000" stroke-width="1.2"/>
<line x1="99.6" y1="133.4" x2="123.7" y2="133.4" stroke="#000" stroke-width="1.2"/>
<polyline points="111.6,133.4 111.6,149.2 174,149.2" fill="none" stroke="#000" stroke-width="1.2" stroke-linejoin="miter"/>
<text x="104.5" y="147.7" text-anchor="end" font-size="12" fill="#262626">47 nF</text>
<polyline points="174,200.3 80.2,200.3 80.2,247" fill="none" stroke="#000" stroke-width="1.2" stroke-linejoin="miter"/>
<line x1="68" y1="247" x2="93" y2="247" stroke="#000" stroke-width="1.2"/>
<line x1="68" y1="254.2" x2="93" y2="254.2" stroke="#000" stroke-width="1.2"/>
<line x1="80.2" y1="254.2" x2="80.2" y2="315" stroke="#000" stroke-width="1.2"/>
<line x1="67.7" y1="315" x2="92.7" y2="315" stroke="#000" stroke-width="1.2"/>
<line x1="72.0" y1="321.1" x2="88.4" y2="321.1" stroke="#000" stroke-width="1.2"/>
<line x1="76.2" y1="327.0" x2="84.2" y2="327.0" stroke="#000" stroke-width="1.2"/>
<polyline points="174,249.3 111.4,249.3 111.4,270.3" fill="none" stroke="#000" stroke-width="1.2" stroke-linejoin="miter"/>
<line x1="99" y1="270.3" x2="124" y2="270.3" stroke="#000" stroke-width="1.2"/>
<line x1="99" y1="278.2" x2="124" y2="278.2" stroke="#000" stroke-width="1.2"/>
<line x1="111.4" y1="278.2" x2="111.4" y2="301.5" stroke="#000" stroke-width="1.2"/>
<line x1="80.2" y1="301.5" x2="174" y2="301.5" stroke="#000" stroke-width="1.2"/>
<circle cx="80.2" cy="301.5" r="2.8" fill="#000"/>
<circle cx="111.4" cy="301.5" r="2.8" fill="#000"/>
<text x="85.5" y="238.6" text-anchor="start" font-size="12" fill="#262626">1 µF</text>
<text x="119" y="266.5" text-anchor="start" font-size="12" fill="#262626">1 µF</text>
<polyline points="174,301.5 197.5,301.5 197.5,321.2" fill="none" stroke="#000" stroke-width="1.2" stroke-linejoin="miter"/>
<line x1="185.2" y1="321.2" x2="209.8" y2="321.2" stroke="#000" stroke-width="1.2"/>
<line x1="189.3" y1="327.3" x2="205.7" y2="327.3" stroke="#000" stroke-width="1.2"/>
<line x1="193.5" y1="333.2" x2="201.5" y2="333.2" stroke="#000" stroke-width="1.2"/>
<rect x="213.4" y="43" width="124.60" height="270.20" fill="#fff" stroke="#000" stroke-width="2"/>
<line x1="263.09999999999997" y1="321.2" x2="287.7" y2="321.2" stroke="#000" stroke-width="1.2"/>
<line x1="267.2" y1="327.3" x2="283.59999999999997" y2="327.3" stroke="#000" stroke-width="1.2"/>
<line x1="271.4" y1="333.2" x2="279.4" y2="333.2" stroke="#000" stroke-width="1.2"/>
<line x1="275.4" y1="313.2" x2="275.4" y2="321.2" stroke="#000" stroke-width="1.2"/>
<rect x="228.6" y="63.8" width="78.20" height="97.60" fill="#fff" stroke="#000" stroke-width="2"/>
<rect x="228.6" y="177.3" width="78.20" height="46.30" fill="#fff" stroke="#000" stroke-width="2"/>
<rect x="228.6" y="239.2" width="78.20" height="46.20" fill="#fff" stroke="#000" stroke-width="2"/>
<line x1="181.3" y1="79.4" x2="228.6" y2="79.4" stroke="#000" stroke-width="1.2"/>
<line x1="181.3" y1="110.2" x2="228.6" y2="110.2" stroke="#000" stroke-width="1.2"/>
<line x1="181.3" y1="149.2" x2="228.6" y2="149.2" stroke="#000" stroke-width="1.2"/>
<line x1="181.3" y1="200.3" x2="228.6" y2="200.3" stroke="#000" stroke-width="1.2"/>
<line x1="181.3" y1="249.3" x2="228.6" y2="249.3" stroke="#000" stroke-width="1.2"/>
<polyline points="181.3,27.4 322.5,27.4 322.5,262.6 307.8,262.6" fill="none" stroke="#000" stroke-width="1.2" stroke-linejoin="miter"/>
<line x1="307.8" y1="89.2" x2="322.5" y2="89.2" stroke="#000" stroke-width="1.2"/>
<line x1="307.8" y1="200.2" x2="322.5" y2="200.2" stroke="#000" stroke-width="1.2"/>
<circle cx="322.5" cy="89.2" r="2.8" fill="#000"/>
<circle cx="322.5" cy="200.2" r="2.8" fill="#000"/>
<polygon points="307.8,89.2 315.3,85.4 315.3,93.0" fill="#000"/>
<polygon points="307.8,200.2 315.3,196.39999999999998 315.3,204.0" fill="#000"/>
<polygon points="307.8,262.6 315.3,258.8 315.3,266.40000000000003" fill="#000"/>
<text x="267.7" y="101.4" text-anchor="middle" font-size="12" fill="#262626">VCP</text>
<text x="267.7" y="116" text-anchor="middle" font-size="12" fill="#262626">Charge</text>
<text x="267.7" y="129.9" text-anchor="middle" font-size="12" fill="#262626">Pump</text>
<text x="267.7" y="188.4" text-anchor="middle" font-size="12" fill="#262626">VGLS</text>
<text x="267.7" y="203.3" text-anchor="middle" font-size="12" fill="#262626">Linear</text>
<text x="267.7" y="217.9" text-anchor="middle" font-size="12" fill="#262626">Regulator</text>
<text x="267.7" y="250.4" text-anchor="middle" font-size="12" fill="#262626">DVDD</text>
<text x="267.7" y="265.2" text-anchor="middle" font-size="12" fill="#262626">Linear</text>
<text x="267.7" y="279.9" text-anchor="middle" font-size="12" fill="#262626">Regulator</text>
<text x="275.2" y="302.8" text-anchor="middle" font-size="12" fill="#262626">Power Supplies</text>
<polyline points="339,175.4 353.7,175.4 353.7,284.3 368.5,284.3" fill="none" stroke="#000" stroke-width="1.2" stroke-linejoin="miter"/>
<polygon points="339,175.4 346.5,171.6 346.5,179.20000000000002" fill="#000"/>
<polygon points="368.5,284.3 361.0,280.5 361.0,288.1" fill="#000"/>
<rect x="246.3" y="343.4" width="91.70" height="370.90" fill="#fff" stroke="#000" stroke-width="2"/>
<text x="291.5" y="524.5" text-anchor="middle" font-size="12" fill="#262626">Control</text>
<text x="291.5" y="539.4" text-anchor="middle" font-size="12" fill="#262626">Inputs</text>
<polyline points="338,527.2 353.7,527.2 353.7,434 368.5,434" fill="none" stroke="#000" stroke-width="1.2" stroke-linejoin="miter"/>
<polygon points="368.5,434 361.0,430.2 361.0,437.8" fill="#000"/>
<line x1="119.5" y1="349.5" x2="174" y2="349.5" stroke="#000" stroke-width="1.2"/>
<line x1="181.3" y1="349.5" x2="245.3" y2="349.5" stroke="#000" stroke-width="1.2"/>
<polygon points="245.3,349.5 237.8,345.7 237.8,353.3" fill="#000"/>
<circle cx="220" cy="349.5" r="2.9" fill="#000"/>
<polyline points="220,349.5 220,355.0 224.1,357.3 215.9,361.3 224.1,364.7 215.9,368.3 224.1,371.8 215.9,375.5 220,377.5 220,379.1" fill="none" stroke="#000" stroke-width="1.05" stroke-linejoin="miter"/>
<polygon points="211.4,379.1 228.4,379.1 219.8,387.8" fill="#000"/>
<line x1="119.5" y1="390.4" x2="174" y2="390.4" stroke="#000" stroke-width="1.2"/>
<line x1="181.3" y1="390.4" x2="245.3" y2="390.4" stroke="#000" stroke-width="1.2"/>
<polygon points="245.3,390.4 237.8,386.59999999999997 237.8,394.2" fill="#000"/>
<circle cx="198.2" cy="390.4" r="2.9" fill="#000"/>
<polyline points="198.2,390.4 198.2,395.9 202.29999999999998,398.2 194.1,402.2 202.29999999999998,405.59999999999997 194.1,409.2 202.29999999999998,412.7 194.1,416.4 198.2,418.4 198.2,420.0" fill="none" stroke="#000" stroke-width="1.05" stroke-linejoin="miter"/>
<polygon points="189.6,420.0 206.6,420.0 198.0,428.7" fill="#000"/>
<line x1="119.5" y1="431.2" x2="174" y2="431.2" stroke="#000" stroke-width="1.2"/>
<line x1="181.3" y1="431.2" x2="245.3" y2="431.2" stroke="#000" stroke-width="1.2"/>
<polygon points="245.3,431.2 237.8,427.4 237.8,435.0" fill="#000"/>
<circle cx="220" cy="431.2" r="2.9" fill="#000"/>
<polyline points="220,431.2 220,436.7 224.1,439.0 215.9,443.0 224.1,446.4 215.9,450.0 224.1,453.5 215.9,457.2 220,459.2 220,460.8" fill="none" stroke="#000" stroke-width="1.05" stroke-linejoin="miter"/>
<polygon points="211.4,460.8 228.4,460.8 219.8,469.5" fill="#000"/>
<line x1="119.5" y1="472.4" x2="174" y2="472.4" stroke="#000" stroke-width="1.2"/>
<line x1="181.3" y1="472.4" x2="245.3" y2="472.4" stroke="#000" stroke-width="1.2"/>
<polygon points="245.3,472.4 237.8,468.59999999999997 237.8,476.2" fill="#000"/>
<circle cx="198.2" cy="472.4" r="2.9" fill="#000"/>
<polyline points="198.2,472.4 198.2,477.9 202.29999999999998,480.2 194.1,484.2 202.29999999999998,487.59999999999997 194.1,491.2 202.29999999999998,494.7 194.1,498.4 198.2,500.4 198.2,502.0" fill="none" stroke="#000" stroke-width="1.05" stroke-linejoin="miter"/>
<polygon points="189.6,502.0 206.6,502.0 198.0,510.7" fill="#000"/>
<line x1="119.5" y1="512.9" x2="174" y2="512.9" stroke="#000" stroke-width="1.2"/>
<line x1="181.3" y1="512.9" x2="245.3" y2="512.9" stroke="#000" stroke-width="1.2"/>
<polygon points="245.3,512.9 237.8,509.09999999999997 237.8,516.6999999999999" fill="#000"/>
<circle cx="220.3" cy="512.9" r="2.9" fill="#000"/>
<polyline points="220.3,512.9 220.3,518.4 224.4,520.6999999999999 216.20000000000002,524.6999999999999 224.4,528.1 216.20000000000002,531.6999999999999 224.4,535.1999999999999 216.20000000000002,538.9 220.3,540.9 220.3,542.5" fill="none" stroke="#000" stroke-width="1.05" stroke-linejoin="miter"/>
<polygon points="211.70000000000002,542.5 228.70000000000002,542.5 220.10000000000002,551.1999999999999" fill="#000"/>
<line x1="119.5" y1="552.2" x2="174" y2="552.2" stroke="#000" stroke-width="1.2"/>
<line x1="181.3" y1="552.2" x2="245.3" y2="552.2" stroke="#000" stroke-width="1.2"/>
<polygon points="245.3,552.2 237.8,548.4000000000001 237.8,556.0" fill="#000"/>
<circle cx="198.2" cy="552.2" r="2.9" fill="#000"/>
<polyline points="198.2,552.2 198.2,557.7 202.29999999999998,560.0 194.1,564.0 202.29999999999998,567.4000000000001 194.1,571.0 202.29999999999998,574.5 194.1,578.2 198.2,580.2 198.2,581.8000000000001" fill="none" stroke="#000" stroke-width="1.05" stroke-linejoin="miter"/>
<polygon points="189.6,581.8000000000001 206.6,581.8000000000001 198.0,590.5" fill="#000"/>
<line x1="119.5" y1="592.9" x2="174" y2="592.9" stroke="#000" stroke-width="1.2"/>
<line x1="181.3" y1="592.9" x2="245.3" y2="592.9" stroke="#000" stroke-width="1.2"/>
<polygon points="245.3,592.9 237.8,589.1 237.8,596.6999999999999" fill="#000"/>
<circle cx="220.3" cy="592.9" r="2.9" fill="#000"/>
<polyline points="220.3,592.9 220.3,598.4 224.4,600.6999999999999 216.20000000000002,604.6999999999999 224.4,608.1 216.20000000000002,611.6999999999999 224.4,615.1999999999999 216.20000000000002,618.9 220.3,620.9 220.3,622.5" fill="none" stroke="#000" stroke-width="1.05" stroke-linejoin="miter"/>
<polygon points="211.70000000000002,622.5 228.70000000000002,622.5 220.10000000000002,631.1999999999999" fill="#000"/>
<line x1="119.5" y1="635.5" x2="174" y2="635.5" stroke="#000" stroke-width="1.2"/>
<line x1="181.3" y1="635.5" x2="245.3" y2="635.5" stroke="#000" stroke-width="1.2"/>
<polygon points="245.3,635.5 237.8,631.7 237.8,639.3" fill="#000"/>
<line x1="119.5" y1="669.6" x2="174" y2="669.6" stroke="#000" stroke-width="1.2"/>
<line x1="181.3" y1="669.6" x2="245.3" y2="669.6" stroke="#000" stroke-width="1.2"/>
<polygon points="245.3,669.6 237.8,665.8000000000001 237.8,673.4" fill="#000"/>
<line x1="119.5" y1="703.2" x2="174" y2="703.2" stroke="#000" stroke-width="1.2"/>
<line x1="181.3" y1="703.2" x2="245.3" y2="703.2" stroke="#000" stroke-width="1.2"/>
<polygon points="245.3,703.2 237.8,699.4000000000001 237.8,707.0" fill="#000"/>
<text x="162" y="343.8" text-anchor="end" font-size="12" fill="#262626">ENABLE</text>
<text x="162" y="385.5" text-anchor="end" font-size="12" fill="#262626">INHA</text>
<text x="162" y="425.8" text-anchor="end" font-size="12" fill="#262626">INLA</text>
<text x="162" y="466.5" text-anchor="end" font-size="12" fill="#262626">INHB</text>
<text x="162" y="506.9" text-anchor="end" font-size="12" fill="#262626">INLB</text>
<text x="162" y="546.6" text-anchor="end" font-size="12" fill="#262626">INHC</text>
<text x="162" y="586.3" text-anchor="end" font-size="12" fill="#262626">INLC</text>
<text x="162" y="628.5" text-anchor="end" font-size="12" fill="#262626">MODE</text>
<text x="162" y="662.2" text-anchor="end" font-size="12" fill="#262626">IDRIVE</text>
<text x="162" y="695.8" text-anchor="end" font-size="12" fill="#262626">VDS</text>
<text x="162" y="19.9" text-anchor="end" font-size="12" fill="#262626">VM</text>
<text x="162" y="68.1" text-anchor="end" font-size="12" fill="#262626">VCP</text>
<text x="162" y="103" text-anchor="end" font-size="12" fill="#262626">CPH</text>
<text x="162" y="142.6" text-anchor="end" font-size="12" fill="#262626">CPL</text>
<text x="162" y="192.3" text-anchor="end" font-size="12" fill="#262626">VGLS</text>
<text x="162" y="242.3" text-anchor="end" font-size="12" fill="#262626">DVDD</text>
<text x="162" y="294.7" text-anchor="end" font-size="12" fill="#262626">GND</text>
<rect x="166.6" y="19.700000000000003" width="14.90" height="15.20" fill="#fff" stroke="#000" stroke-width="1.35"/>
<rect x="166.6" y="71.7" width="14.90" height="15.20" fill="#fff" stroke="#000" stroke-width="1.35"/>
<rect x="166.6" y="102.0" width="14.90" height="15.20" fill="#fff" stroke="#000" stroke-width="1.35"/>
<rect x="166.6" y="141.5" width="14.90" height="15.20" fill="#fff" stroke="#000" stroke-width="1.35"/>
<rect x="166.6" y="192.9" width="14.90" height="15.20" fill="#fff" stroke="#000" stroke-width="1.35"/>
<rect x="166.6" y="241.9" width="14.90" height="15.20" fill="#fff" stroke="#000" stroke-width="1.35"/>
<rect x="166.6" y="294.09999999999997" width="14.90" height="15.20" fill="#fff" stroke="#000" stroke-width="1.35"/>
<rect x="166.6" y="341.9" width="14.90" height="15.20" fill="#fff" stroke="#000" stroke-width="1.35"/>
<rect x="166.6" y="382.79999999999995" width="14.90" height="15.20" fill="#fff" stroke="#000" stroke-width="1.35"/>
<rect x="166.6" y="423.59999999999997" width="14.90" height="15.20" fill="#fff" stroke="#000" stroke-width="1.35"/>
<rect x="166.6" y="464.79999999999995" width="14.90" height="15.20" fill="#fff" stroke="#000" stroke-width="1.35"/>
<rect x="166.6" y="505.29999999999995" width="14.90" height="15.20" fill="#fff" stroke="#000" stroke-width="1.35"/>
<rect x="166.6" y="544.6" width="14.90" height="15.20" fill="#fff" stroke="#000" stroke-width="1.35"/>
<rect x="166.6" y="585.3" width="14.90" height="15.20" fill="#fff" stroke="#000" stroke-width="1.35"/>
<rect x="166.6" y="627.9" width="14.90" height="15.20" fill="#fff" stroke="#000" stroke-width="1.35"/>
<rect x="166.6" y="662.0" width="14.90" height="15.20" fill="#fff" stroke="#000" stroke-width="1.35"/>
<rect x="166.6" y="695.6" width="14.90" height="15.20" fill="#fff" stroke="#000" stroke-width="1.35"/>
<rect x="369.4" y="206.5" width="93.80" height="344.00" fill="#fff" stroke="#000" stroke-width="2"/>
<text x="415.8" y="375" text-anchor="middle" font-size="12" fill="#262626">Digital</text>
<text x="415.8" y="388.8" text-anchor="middle" font-size="12" fill="#262626">Core</text>
<rect x="376.8" y="472.5" width="79.10" height="39.30" fill="#fff" stroke="#000" stroke-width="2"/>
<text x="416" y="488" text-anchor="middle" font-size="12" fill="#262626">Smart Gate</text>
<text x="416" y="502.4" text-anchor="middle" font-size="12" fill="#262626">Drive</text>
<rect x="376.8" y="519.1" width="79.10" height="23.80" fill="#fff" stroke="#000" stroke-width="2"/>
<text x="416" y="534" text-anchor="middle" font-size="12" fill="#262626">Protection</text>
<polyline points="464.2,323.6 478.3,323.6 478.3,120.5 493.4,120.5" fill="none" stroke="#000" stroke-width="1.2" stroke-linejoin="miter"/>
<polygon points="464.2,323.6 471.7,319.8 471.7,327.40000000000003" fill="#000"/>
<polygon points="493.4,120.5 485.9,116.7 485.9,124.3" fill="#000"/>
<line x1="464.2" y1="339.7" x2="493.4" y2="339.7" stroke="#000" stroke-width="1.2"/>
<polygon points="464.2,339.7 471.7,335.9 471.7,343.5" fill="#000"/>
<polygon points="493.4,339.7 485.9,335.9 485.9,343.5" fill="#000"/>
<polyline points="464.2,355.4 478.3,355.4 478.3,558.3 493.4,558.3" fill="none" stroke="#000" stroke-width="1.2" stroke-linejoin="miter"/>
<polygon points="464.2,355.4 471.7,351.59999999999997 471.7,359.2" fill="#000"/>
<polygon points="493.4,558.3 485.9,554.5 485.9,562.0999999999999" fill="#000"/>
<polyline points="431.5,550.5 431.5,728 493.2,728" fill="none" stroke="#000" stroke-width="1.2" stroke-linejoin="miter"/>
<polygon points="493.2,728 485.7,724.2 485.7,731.8" fill="#000"/>
<rect x="494.4" y="27.2" width="94.10" height="202.60" fill="#fff" stroke="#000" stroke-width="2"/>
<polygon points="525.5,58.40 556.2,77.80 525.5,97.30" fill="#fff" stroke="#000" stroke-width="2"/>
<text x="541.5" y="47.3" text-anchor="middle" font-size="12" fill="#262626">VCP</text>
<line x1="541.3" y1="50.3" x2="541.3" y2="68.3" stroke="#000" stroke-width="1.2"/>
<line x1="494.4" y1="77.8" x2="524.4" y2="77.8" stroke="#000" stroke-width="1.2"/>
<polygon points="524.4,77.8 516.9,74.0 516.9,81.6" fill="#000"/>
<text x="536.5" y="80.7" text-anchor="middle" font-size="12" fill="#262626">HS</text>
<line x1="556.2" y1="77.8" x2="718" y2="77.8" stroke="#000" stroke-width="1.2"/>
<polyline points="541.3,87.35 541.3,116.9 753.5,116.9" fill="none" stroke="#000" stroke-width="1.2" stroke-linejoin="miter"/>
<polygon points="525.5,144.10 556.2,163.50 525.5,183.20" fill="#fff" stroke="#000" stroke-width="2"/>
<text x="541.5" y="132.7" text-anchor="middle" font-size="12" fill="#262626">VGLS</text>
<line x1="541.3" y1="135.7" x2="541.3" y2="154.0" stroke="#000" stroke-width="1.2"/>
<line x1="494.4" y1="163.5" x2="524.4" y2="163.5" stroke="#000" stroke-width="1.2"/>
<polygon points="524.4,163.5 516.9,159.7 516.9,167.3" fill="#000"/>
<text x="536.5" y="166.4" text-anchor="middle" font-size="12" fill="#262626">LS</text>
<line x1="556.2" y1="163.5" x2="718" y2="163.5" stroke="#000" stroke-width="1.2"/>
<polyline points="541.3,173.15 541.3,202.2 753.5,202.2" fill="none" stroke="#000" stroke-width="1.2" stroke-linejoin="miter"/>
<text x="540.6" y="218.79999999999998" text-anchor="middle" font-size="12" fill="#262626">Gate Driver</text>
<rect x="718" y="49.199999999999996" width="64.50" height="58.30" fill="#fff" stroke="#000" stroke-width="2"/>
<line x1="730.5" y1="64.6" x2="730.5" y2="92.1" stroke="#000" stroke-width="1.3"/>
<line x1="717" y1="77.69999999999999" x2="730.5" y2="77.69999999999999" stroke="#000" stroke-width="1.2"/>
<line x1="738.5" y1="59.5" x2="738.5" y2="69.5" stroke="#000" stroke-width="1.3"/>
<line x1="738.5" y1="73.69999999999999" x2="738.5" y2="83.1" stroke="#000" stroke-width="1.3"/>
<line x1="738.5" y1="87.6" x2="738.5" y2="96.19999999999999" stroke="#000" stroke-width="1.3"/>
<polyline points="738.5,64.8 768.6,64.8 768.6,91.8 738.5,91.8" fill="none" stroke="#000" stroke-width="1.2" stroke-linejoin="miter"/>
<line x1="738.5" y1="77.89999999999999" x2="753.5" y2="77.89999999999999" stroke="#000" stroke-width="1.2"/>
<polygon points="742.3,78.19999999999999 750.4,73.3 750.4,83.1" fill="#000"/>
<line x1="759" y1="70.8" x2="778" y2="70.8" stroke="#000" stroke-width="1.2"/>
<polygon points="768.6,71.39999999999999 761.2,85.19999999999999 776,85.19999999999999" fill="#000"/>
<rect x="718" y="134.7" width="64.50" height="58.30" fill="#fff" stroke="#000" stroke-width="2"/>
<line x1="730.5" y1="150.1" x2="730.5" y2="177.6" stroke="#000" stroke-width="1.3"/>
<line x1="717" y1="163.2" x2="730.5" y2="163.2" stroke="#000" stroke-width="1.2"/>
<line x1="738.5" y1="145.0" x2="738.5" y2="155.0" stroke="#000" stroke-width="1.3"/>
<line x1="738.5" y1="159.2" x2="738.5" y2="168.6" stroke="#000" stroke-width="1.3"/>
<line x1="738.5" y1="173.1" x2="738.5" y2="181.7" stroke="#000" stroke-width="1.3"/>
<polyline points="738.5,150.29999999999998 768.6,150.29999999999998 768.6,177.29999999999998 738.5,177.29999999999998" fill="none" stroke="#000" stroke-width="1.2" stroke-linejoin="miter"/>
<line x1="738.5" y1="163.39999999999998" x2="753.5" y2="163.39999999999998" stroke="#000" stroke-width="1.2"/>
<polygon points="742.3,163.7 750.4,158.79999999999998 750.4,168.6" fill="#000"/>
<line x1="759" y1="156.29999999999998" x2="778" y2="156.29999999999998" stroke="#000" stroke-width="1.2"/>
<polygon points="768.6,156.89999999999998 761.2,170.7 776,170.7" fill="#000"/>
<line x1="753.5" y1="77.69999999999999" x2="753.5" y2="116.9" stroke="#000" stroke-width="1.2"/>
<line x1="753.5" y1="116.9" x2="753.5" y2="150.2" stroke="#000" stroke-width="1.2"/>
<line x1="753.5" y1="163.2" x2="753.5" y2="214.39999999999998" stroke="#000" stroke-width="1.2"/>
<circle cx="753.5" cy="116.9" r="2.8" fill="#000"/>
<circle cx="753.5" cy="125.4" r="2.8" fill="#000"/>
<circle cx="753.5" cy="202.2" r="2.8" fill="#000"/>
<line x1="741.65" y1="214.39999999999998" x2="765.35" y2="214.39999999999998" stroke="#000" stroke-width="1.2"/>
<line x1="745.4" y1="220.49999999999997" x2="761.6" y2="220.49999999999997" stroke="#000" stroke-width="1.2"/>
<line x1="749.3" y1="226.39999999999998" x2="757.7" y2="226.39999999999998" stroke="#000" stroke-width="1.2"/>
<text x="753.5" y="14.6" text-anchor="middle" font-size="12" fill="#262626">VDRAIN</text>
<line x1="753.5" y1="18.7" x2="753.5" y2="64.69999999999999" stroke="#000" stroke-width="1.2"/>
<line x1="641.8" y1="35.3" x2="753.5" y2="35.3" stroke="#000" stroke-width="1.2"/>
<circle cx="753.5" cy="35.3" r="2.8" fill="#000"/>
<rect x="494.4" y="246" width="94.10" height="202.60" fill="#fff" stroke="#000" stroke-width="2"/>
<polygon points="525.5,277.20 556.2,296.60 525.5,316.10" fill="#fff" stroke="#000" stroke-width="2"/>
<text x="541.5" y="266.1" text-anchor="middle" font-size="12" fill="#262626">VCP</text>
<line x1="541.3" y1="269.1" x2="541.3" y2="287.09999999999997" stroke="#000" stroke-width="1.2"/>
<line x1="494.4" y1="296.6" x2="524.4" y2="296.6" stroke="#000" stroke-width="1.2"/>
<polygon points="524.4,296.6 516.9,292.8 516.9,300.40000000000003" fill="#000"/>
<text x="536.5" y="299.5" text-anchor="middle" font-size="12" fill="#262626">HS</text>
<line x1="556.2" y1="296.6" x2="718" y2="296.6" stroke="#000" stroke-width="1.2"/>
<polyline points="541.3,306.15000000000003 541.3,335.7 753.5,335.7" fill="none" stroke="#000" stroke-width="1.2" stroke-linejoin="miter"/>
<polygon points="525.5,362.90 556.2,382.30 525.5,402.00" fill="#fff" stroke="#000" stroke-width="2"/>
<text x="541.5" y="351.5" text-anchor="middle" font-size="12" fill="#262626">VGLS</text>
<line x1="541.3" y1="354.5" x2="541.3" y2="372.8" stroke="#000" stroke-width="1.2"/>
<line x1="494.4" y1="382.3" x2="524.4" y2="382.3" stroke="#000" stroke-width="1.2"/>
<polygon points="524.4,382.3 516.9,378.5 516.9,386.1" fill="#000"/>
<text x="536.5" y="385.2" text-anchor="middle" font-size="12" fill="#262626">LS</text>
<line x1="556.2" y1="382.3" x2="718" y2="382.3" stroke="#000" stroke-width="1.2"/>
<polyline points="541.3,391.95 541.3,421.0 753.5,421.0" fill="none" stroke="#000" stroke-width="1.2" stroke-linejoin="miter"/>
<text x="540.6" y="437.6" text-anchor="middle" font-size="12" fill="#262626">Gate Driver</text>
<rect x="718" y="268.0" width="64.50" height="58.30" fill="#fff" stroke="#000" stroke-width="2"/>
<line x1="730.5" y1="283.4" x2="730.5" y2="310.9" stroke="#000" stroke-width="1.3"/>
<line x1="717" y1="296.5" x2="730.5" y2="296.5" stroke="#000" stroke-width="1.2"/>
<line x1="738.5" y1="278.3" x2="738.5" y2="288.3" stroke="#000" stroke-width="1.3"/>
<line x1="738.5" y1="292.5" x2="738.5" y2="301.9" stroke="#000" stroke-width="1.3"/>
<line x1="738.5" y1="306.4" x2="738.5" y2="315.0" stroke="#000" stroke-width="1.3"/>
<polyline points="738.5,283.6 768.6,283.6 768.6,310.6 738.5,310.6" fill="none" stroke="#000" stroke-width="1.2" stroke-linejoin="miter"/>
<line x1="738.5" y1="296.7" x2="753.5" y2="296.7" stroke="#000" stroke-width="1.2"/>
<polygon points="742.3,297.0 750.4,292.1 750.4,301.9" fill="#000"/>
<line x1="759" y1="289.6" x2="778" y2="289.6" stroke="#000" stroke-width="1.2"/>
<polygon points="768.6,290.2 761.2,304.0 776,304.0" fill="#000"/>
<rect x="718" y="353.5" width="64.50" height="58.30" fill="#fff" stroke="#000" stroke-width="2"/>
<line x1="730.5" y1="368.9" x2="730.5" y2="396.4" stroke="#000" stroke-width="1.3"/>
<line x1="717" y1="382.0" x2="730.5" y2="382.0" stroke="#000" stroke-width="1.2"/>
<line x1="738.5" y1="363.8" x2="738.5" y2="373.8" stroke="#000" stroke-width="1.3"/>
<line x1="738.5" y1="378.0" x2="738.5" y2="387.4" stroke="#000" stroke-width="1.3"/>
<line x1="738.5" y1="391.9" x2="738.5" y2="400.5" stroke="#000" stroke-width="1.3"/>
<polyline points="738.5,369.1 768.6,369.1 768.6,396.1 738.5,396.1" fill="none" stroke="#000" stroke-width="1.2" stroke-linejoin="miter"/>
<line x1="738.5" y1="382.2" x2="753.5" y2="382.2" stroke="#000" stroke-width="1.2"/>
<polygon points="742.3,382.5 750.4,377.6 750.4,387.4" fill="#000"/>
<line x1="759" y1="375.1" x2="778" y2="375.1" stroke="#000" stroke-width="1.2"/>
<polygon points="768.6,375.7 761.2,389.5 776,389.5" fill="#000"/>
<line x1="753.5" y1="296.5" x2="753.5" y2="335.7" stroke="#000" stroke-width="1.2"/>
<line x1="753.5" y1="335.7" x2="753.5" y2="369.0" stroke="#000" stroke-width="1.2"/>
<line x1="753.5" y1="382.0" x2="753.5" y2="433.2" stroke="#000" stroke-width="1.2"/>
<circle cx="753.5" cy="335.7" r="2.8" fill="#000"/>
<circle cx="753.5" cy="344.2" r="2.8" fill="#000"/>
<circle cx="753.5" cy="421.0" r="2.8" fill="#000"/>
<line x1="741.65" y1="433.2" x2="765.35" y2="433.2" stroke="#000" stroke-width="1.2"/>
<line x1="745.4" y1="439.3" x2="761.6" y2="439.3" stroke="#000" stroke-width="1.2"/>
<line x1="749.3" y1="445.2" x2="757.7" y2="445.2" stroke="#000" stroke-width="1.2"/>
<text x="753.5" y="253.7" text-anchor="middle" font-size="12" fill="#262626">VDRAIN</text>
<line x1="753.5" y1="257.5" x2="753.5" y2="283.5" stroke="#000" stroke-width="1.2"/>
<rect x="494.4" y="464.7" width="94.10" height="202.60" fill="#fff" stroke="#000" stroke-width="2"/>
<polygon points="525.5,495.90 556.2,515.30 525.5,534.80" fill="#fff" stroke="#000" stroke-width="2"/>
<text x="541.5" y="484.8" text-anchor="middle" font-size="12" fill="#262626">VCP</text>
<line x1="541.3" y1="487.8" x2="541.3" y2="505.79999999999995" stroke="#000" stroke-width="1.2"/>
<line x1="494.4" y1="515.3" x2="524.4" y2="515.3" stroke="#000" stroke-width="1.2"/>
<polygon points="524.4,515.3 516.9,511.49999999999994 516.9,519.0999999999999" fill="#000"/>
<text x="536.5" y="518.1999999999999" text-anchor="middle" font-size="12" fill="#262626">HS</text>
<line x1="556.2" y1="515.3" x2="718" y2="515.3" stroke="#000" stroke-width="1.2"/>
<polyline points="541.3,524.8499999999999 541.3,554.4 753.5,554.4" fill="none" stroke="#000" stroke-width="1.2" stroke-linejoin="miter"/>
<polygon points="525.5,581.60 556.2,601.00 525.5,620.70" fill="#fff" stroke="#000" stroke-width="2"/>
<text x="541.5" y="570.2" text-anchor="middle" font-size="12" fill="#262626">VGLS</text>
<line x1="541.3" y1="573.2" x2="541.3" y2="591.5" stroke="#000" stroke-width="1.2"/>
<line x1="494.4" y1="601.0" x2="524.4" y2="601.0" stroke="#000" stroke-width="1.2"/>
<polygon points="524.4,601.0 516.9,597.2 516.9,604.8" fill="#000"/>
<text x="536.5" y="603.9" text-anchor="middle" font-size="12" fill="#262626">LS</text>
<line x1="556.2" y1="601.0" x2="718" y2="601.0" stroke="#000" stroke-width="1.2"/>
<polyline points="541.3,610.65 541.3,639.7 753.5,639.7" fill="none" stroke="#000" stroke-width="1.2" stroke-linejoin="miter"/>
<text x="540.6" y="656.3" text-anchor="middle" font-size="12" fill="#262626">Gate Driver</text>
<rect x="718" y="486.69999999999993" width="64.50" height="58.30" fill="#fff" stroke="#000" stroke-width="2"/>
<line x1="730.5" y1="502.0999999999999" x2="730.5" y2="529.5999999999999" stroke="#000" stroke-width="1.3"/>
<line x1="717" y1="515.1999999999999" x2="730.5" y2="515.1999999999999" stroke="#000" stroke-width="1.2"/>
<line x1="738.5" y1="496.99999999999994" x2="738.5" y2="506.99999999999994" stroke="#000" stroke-width="1.3"/>
<line x1="738.5" y1="511.19999999999993" x2="738.5" y2="520.5999999999999" stroke="#000" stroke-width="1.3"/>
<line x1="738.5" y1="525.0999999999999" x2="738.5" y2="533.6999999999999" stroke="#000" stroke-width="1.3"/>
<polyline points="738.5,502.29999999999995 768.6,502.29999999999995 768.6,529.3 738.5,529.3" fill="none" stroke="#000" stroke-width="1.2" stroke-linejoin="miter"/>
<line x1="738.5" y1="515.4" x2="753.5" y2="515.4" stroke="#000" stroke-width="1.2"/>
<polygon points="742.3,515.6999999999999 750.4,510.79999999999995 750.4,520.5999999999999" fill="#000"/>
<line x1="759" y1="508.29999999999995" x2="778" y2="508.29999999999995" stroke="#000" stroke-width="1.2"/>
<polygon points="768.6,508.8999999999999 761.2,522.6999999999999 776,522.6999999999999" fill="#000"/>
<rect x="718" y="572.2" width="64.50" height="58.30" fill="#fff" stroke="#000" stroke-width="2"/>
<line x1="730.5" y1="587.6" x2="730.5" y2="615.1" stroke="#000" stroke-width="1.3"/>
<line x1="717" y1="600.7" x2="730.5" y2="600.7" stroke="#000" stroke-width="1.2"/>
<line x1="738.5" y1="582.5" x2="738.5" y2="592.5" stroke="#000" stroke-width="1.3"/>
<line x1="738.5" y1="596.7" x2="738.5" y2="606.1" stroke="#000" stroke-width="1.3"/>
<line x1="738.5" y1="610.6" x2="738.5" y2="619.2" stroke="#000" stroke-width="1.3"/>
<polyline points="738.5,587.8000000000001 768.6,587.8000000000001 768.6,614.8000000000001 738.5,614.8000000000001" fill="none" stroke="#000" stroke-width="1.2" stroke-linejoin="miter"/>
<line x1="738.5" y1="600.9000000000001" x2="753.5" y2="600.9000000000001" stroke="#000" stroke-width="1.2"/>
<polygon points="742.3,601.2 750.4,596.3000000000001 750.4,606.1" fill="#000"/>
<line x1="759" y1="593.8000000000001" x2="778" y2="593.8000000000001" stroke="#000" stroke-width="1.2"/>
<polygon points="768.6,594.4000000000001 761.2,608.2 776,608.2" fill="#000"/>
<line x1="753.5" y1="515.1999999999999" x2="753.5" y2="554.4" stroke="#000" stroke-width="1.2"/>
<line x1="753.5" y1="554.4" x2="753.5" y2="587.7" stroke="#000" stroke-width="1.2"/>
<line x1="753.5" y1="600.7" x2="753.5" y2="651.9" stroke="#000" stroke-width="1.2"/>
<circle cx="753.5" cy="554.4" r="2.8" fill="#000"/>
<circle cx="753.5" cy="562.9" r="2.8" fill="#000"/>
<circle cx="753.5" cy="639.7" r="2.8" fill="#000"/>
<line x1="741.65" y1="651.9" x2="765.35" y2="651.9" stroke="#000" stroke-width="1.2"/>
<line x1="745.4" y1="658.0" x2="761.6" y2="658.0" stroke="#000" stroke-width="1.2"/>
<line x1="749.3" y1="663.9" x2="757.7" y2="663.9" stroke="#000" stroke-width="1.2"/>
<text x="753.5" y="472.4" text-anchor="middle" font-size="12" fill="#262626">VDRAIN</text>
<line x1="753.5" y1="476.2" x2="753.5" y2="502.19999999999993" stroke="#000" stroke-width="1.2"/>
<polyline points="753.5,125.4 863.4,125.4 863.4,309" fill="none" stroke="#000" stroke-width="1.2" stroke-linejoin="miter"/>
<polyline points="753.5,562.9 863.4,562.9 863.4,378" fill="none" stroke="#000" stroke-width="1.2" stroke-linejoin="miter"/>
<line x1="753.5" y1="344.2" x2="806.5" y2="344.2" stroke="#000" stroke-width="1.2"/>
<circle cx="845.5" cy="344.4" r="38.6" fill="#fff" stroke="#000" stroke-width="1.8"/>
<path d="M806.7,344.8 C809,345 810,350.5 813.20,350.50 L813.60,350.49 L814.00,350.45 L814.40,350.40 L814.79,350.32 L815.18,350.22 L815.56,350.09 L815.93,349.95 L816.30,349.78 L816.65,349.60 L817.00,349.39 L817.33,349.17 L817.66,348.93 L817.96,348.67 L818.26,348.40 L818.54,348.11 L818.80,347.81 L819.04,347.49 L819.27,347.17 L819.48,346.84 L819.68,346.49 L819.85,346.14 L820.01,345.79 L820.14,345.43 L820.26,345.06 L820.35,344.70 L820.43,344.34 L820.48,343.97 L820.52,343.61 L820.54,343.26 L820.54,342.91 L820.52,342.56 L820.48,342.23 L820.42,341.91 L820.35,341.59 L820.26,341.29 L820.15,341.00 L820.03,340.73 L819.89,340.47 L819.74,340.23 L819.58,340.01 L819.41,339.80 L819.22,339.62 L819.03,339.45 L818.83,339.31 L818.62,339.18 L818.40,339.08 L818.18,339.00 L817.96,338.95 L817.73,338.91 L817.50,338.90 L817.28,338.91 L817.05,338.95 L816.83,339.00 L816.60,339.08 L816.39,339.18 L816.18,339.31 L815.98,339.45 L815.78,339.62 L815.60,339.80 L815.43,340.01 L815.26,340.23 L815.11,340.47 L814.98,340.73 L814.86,341.00 L814.75,341.29 L814.66,341.59 L814.59,341.91 L814.53,342.23 L814.49,342.56 L814.47,342.91 L814.47,343.26 L814.49,343.61 L814.52,343.97 L814.58,344.34 L814.66,344.70 L814.75,345.06 L814.87,345.43 L815.00,345.79 L815.16,346.14 L815.33,346.49 L815.52,346.84 L815.73,347.17 L815.96,347.49 L816.21,347.81 L816.47,348.11 L816.75,348.40 L817.04,348.67 L817.35,348.93 L817.67,349.17 L818.01,349.39 L818.35,349.60 L818.71,349.78 L819.08,349.95 L819.45,350.09 L819.83,350.22 L820.22,350.32 L820.61,350.40 L821.01,350.45 L821.41,350.49 L821.81,350.50 L822.21,350.49 L822.61,350.45 L823.00,350.40 L823.40,350.32 L823.78,350.22 L824.17,350.09 L824.54,349.95 L824.91,349.78 L825.26,349.60 L825.61,349.39 L825.94,349.17 L826.26,348.93 L826.57,348.67 L826.87,348.40 L827.14,348.11 L827.41,347.81 L827.65,347.49 L827.88,347.17 L828.09,346.84 L828.28,346.49 L828.46,346.14 L828.61,345.79 L828.75,345.43 L828.86,345.06 L828.96,344.70 L829.04,344.34 L829.09,343.97 L829.13,343.61 L829.15,343.26 L829.15,342.91 L829.13,342.56 L829.09,342.23 L829.03,341.91 L828.96,341.59 L828.87,341.29 L828.76,341.00 L828.64,340.73 L828.50,340.47 L828.35,340.23 L828.19,340.01 L828.02,339.80 L827.83,339.62 L827.64,339.45 L827.44,339.31 L827.23,339.18 L827.01,339.08 L826.79,339.00 L826.57,338.95 L826.34,338.91 L826.11,338.90 L825.88,338.91 L825.66,338.95 L825.43,339.00 L825.21,339.08 L825.00,339.18 L824.79,339.31 L824.59,339.45 L824.39,339.62 L824.21,339.80 L824.03,340.01 L823.87,340.23 L823.72,340.47 L823.59,340.73 L823.46,341.00 L823.36,341.29 L823.27,341.59 L823.19,341.91 L823.14,342.23 L823.10,342.56 L823.08,342.91 L823.08,343.26 L823.09,343.61 L823.13,343.97 L823.19,344.34 L823.26,344.70 L823.36,345.06 L823.48,345.43 L823.61,345.79 L823.77,346.14 L823.94,346.49 L824.13,346.84 L824.34,347.17 L824.57,347.49 L824.82,347.81 L825.08,348.11 L825.36,348.40 L825.65,348.67 L825.96,348.93 L826.28,349.17 L826.62,349.39 L826.96,349.60 L827.32,349.78 L827.68,349.95 L828.06,350.09 L828.44,350.22 L828.83,350.32 L829.22,350.40 L829.62,350.45 L830.02,350.49 L830.42,350.50 L830.82,350.49 L831.21,350.45 L831.61,350.40 L832.00,350.32 L832.39,350.22 L832.77,350.09 L833.15,349.95 L833.51,349.78 L833.87,349.60 L834.22,349.39 L834.55,349.17 L834.87,348.93 L835.18,348.67 L835.47,348.40 L835.75,348.11 L836.01,347.81 L836.26,347.49 L836.49,347.17 L836.70,346.84 L836.89,346.49 L837.07,346.14 L837.22,345.79 L837.36,345.43 L837.47,345.06 L837.57,344.70 L837.64,344.34 L837.70,343.97 L837.74,343.61 L837.76,343.26 L837.75,342.91 L837.73,342.56 L837.69,342.23 L837.64,341.91 L837.56,341.59 L837.47,341.29 L837.37,341.00 L837.25,340.73 L837.11,340.47 L836.96,340.23 L836.80,340.01 L836.62,339.80 L836.44,339.62 L836.25,339.45 L836.04,339.31 L835.83,339.18 L835.62,339.08 L835.40,339.00 L835.17,338.95 L834.95,338.91 L834.72,338.90 L834.49,338.91 L834.27,338.95 L834.04,339.00 L833.82,339.08 L833.61,339.18 L833.40,339.31 L833.19,339.45 L833.00,339.62 L832.82,339.80 L832.64,340.01 L832.48,340.23 L832.33,340.47 L832.19,340.73 L832.07,341.00 L831.97,341.29 L831.88,341.59 L831.80,341.91 L831.75,342.23 L831.71,342.56 L831.69,342.91 L831.68,343.26 L831.70,343.61 L831.74,343.97 L831.80,344.34 L831.87,344.70 L831.97,345.06 L832.08,345.43 L832.22,345.79 L832.37,346.14 L832.55,346.49 L832.74,346.84 L832.95,347.17 L833.18,347.49 L833.42,347.81 L833.69,348.11 L833.97,348.40 L834.26,348.67 L834.57,348.93 L834.89,349.17 L835.22,349.39 L835.57,349.60 L835.93,349.78 L836.29,349.95 L836.67,350.09 L837.05,350.22 L837.44,350.32 L837.83,350.40 L838.23,350.45 L838.62,350.49 L839.02,350.50 C842,350.5 844,348 845.4,344.5" fill="none" stroke="#000" stroke-width="1.15"/>
<path d="M845.4,344.5 C844,342 842.7,338.3 842.50,336.90 L842.70,336.53 L842.91,336.17 L843.15,335.82 L843.41,335.49 L843.68,335.17 L843.97,334.87 L844.28,334.58 L844.61,334.31 L844.94,334.06 L845.29,333.83 L845.66,333.62 L846.03,333.43 L846.41,333.25 L846.80,333.10 L847.20,332.97 L847.60,332.86 L848.01,332.77 L848.42,332.70 L848.83,332.66 L849.23,332.63 L849.64,332.63 L850.04,332.64 L850.44,332.68 L850.83,332.73 L851.22,332.81 L851.59,332.90 L851.95,333.01 L852.31,333.14 L852.65,333.28 L852.97,333.44 L853.28,333.61 L853.58,333.80 L853.85,334.00 L854.11,334.21 L854.35,334.43 L854.57,334.66 L854.77,334.89 L854.95,335.13 L855.10,335.38 L855.24,335.63 L855.35,335.88 L855.44,336.14 L855.50,336.39 L855.55,336.64 L855.57,336.89 L855.56,337.14 L855.54,337.37 L855.49,337.61 L855.42,337.83 L855.32,338.05 L855.21,338.25 L855.07,338.44 L854.92,338.62 L854.75,338.79 L854.55,338.94 L854.34,339.08 L854.12,339.19 L853.88,339.30 L853.62,339.38 L853.35,339.45 L853.07,339.49 L852.78,339.52 L852.48,339.52 L852.17,339.51 L851.86,339.47 L851.54,339.42 L851.22,339.34 L850.89,339.24 L850.56,339.12 L850.24,338.98 L849.91,338.81 L849.59,338.63 L849.28,338.43 L848.97,338.21 L848.67,337.97 L848.38,337.71 L848.09,337.43 L847.82,337.14 L847.57,336.83 L847.32,336.50 L847.10,336.16 L846.88,335.81 L846.69,335.44 L846.51,335.07 L846.36,334.68 L846.22,334.28 L846.10,333.88 L846.01,333.47 L845.93,333.06 L845.88,332.64 L845.85,332.22 L845.85,331.80 L845.86,331.38 L845.90,330.96 L845.97,330.55 L846.05,330.14 L846.16,329.73 L846.29,329.33 L846.44,328.94 L846.62,328.56 L846.82,328.19 L847.03,327.83 L847.27,327.48 L847.53,327.15 L847.80,326.83 L848.09,326.53 L848.40,326.24 L848.72,325.97 L849.06,325.72 L849.41,325.49 L849.78,325.28 L850.15,325.09 L850.53,324.91 L850.92,324.76 L851.32,324.63 L851.72,324.52 L852.13,324.43 L852.54,324.36 L852.94,324.32 L853.35,324.29 L853.76,324.29 L854.16,324.30 L854.56,324.34 L854.95,324.39 L855.33,324.47 L855.71,324.56 L856.07,324.67 L856.43,324.80 L856.77,324.94 L857.09,325.10 L857.40,325.27 L857.70,325.46 L857.97,325.66 L858.23,325.87 L858.47,326.09 L858.69,326.31 L858.89,326.55 L859.07,326.79 L859.22,327.04 L859.36,327.29 L859.47,327.54 L859.56,327.80 L859.62,328.05 L859.67,328.30 L859.69,328.55 L859.68,328.79 L859.66,329.03 L859.61,329.27 L859.54,329.49 L859.44,329.70 L859.33,329.91 L859.19,330.10 L859.04,330.28 L858.87,330.45 L858.67,330.60 L858.46,330.73 L858.24,330.85 L858.00,330.96 L857.74,331.04 L857.47,331.10 L857.19,331.15 L856.90,331.18 L856.60,331.18 L856.29,331.17 L855.98,331.13 L855.66,331.07 L855.34,331.00 L855.01,330.90 L854.68,330.78 L854.36,330.64 L854.03,330.47 L853.71,330.29 L853.40,330.09 L853.09,329.87 L852.79,329.63 L852.50,329.37 L852.21,329.09 L851.94,328.79 L851.69,328.48 L851.44,328.16 L851.22,327.82 L851.00,327.47 L850.81,327.10 L850.63,326.72 L850.48,326.34 L850.34,325.94 L850.22,325.54 L850.13,325.13 L850.05,324.72 L850.00,324.30 L849.97,323.88 L849.97,323.46 L849.98,323.04 L850.02,322.62 L850.08,322.21 L850.17,321.79 L850.28,321.39 L850.41,320.99 L850.56,320.60 L850.74,320.22 L850.94,319.85 L851.15,319.49 L851.39,319.14 L851.65,318.81 L851.92,318.49 L852.21,318.19 L852.52,317.90 L852.84,317.63 L853.18,317.38 L853.53,317.15 L853.90,316.94 L854.27,316.74 L854.65,316.57 L855.04,316.42 L855.44,316.29 L855.84,316.18 L856.25,316.09 L856.66,316.02 L857.06,315.98 L857.47,315.95 L857.88,315.94 L858.28,315.96 L858.68,316.00 L859.07,316.05 L859.45,316.13 L859.83,316.22 L860.19,316.33 L860.55,316.46 L860.89,316.60 L861.21,316.76 L861.52,316.93 L861.82,317.12 L862.09,317.32 L862.35,317.53 L862.59,317.74 L862.81,317.97 L863.01,318.21 L863.19,318.45 L863.34,318.70 L863.48,318.95 L863.59,319.20 L863.68,319.45 L863.74,319.71 L863.79,319.96 L863.81,320.21 L863.80,320.45 L863.78,320.69 L863.73,320.92 L863.66,321.15 L863.56,321.36 L863.45,321.57 L863.31,321.76 L863.16,321.94 L862.99,322.11 L862.79,322.26 L862.58,322.39 L862.36,322.51 L862.12,322.61 L861.86,322.70 L861.59,322.76 L861.31,322.81 L861.02,322.83 L860.72,322.84 L860.41,322.83 L860.10,322.79 L859.78,322.73 L859.46,322.65 L859.13,322.56 L858.80,322.44 L858.48,322.29 L858.15,322.13 L857.83,321.95 L857.52,321.75 L857.21,321.52 L856.91,321.28 L856.61,321.02 L856.33,320.75 L856.06,320.45 L855.81,320.14 L855.56,319.82 L855.33,319.48 L855.12,319.12 L854.93,318.76 L854.75,318.38 L854.60,318.00 L854.46,317.60 L854.34,317.20 L854.25,316.79 L854.17,316.38 L854.12,315.96 L854.09,315.54 L854.08,315.12 L854.10,314.70 L854.14,314.28 L854.20,313.86 L854.29,313.45 L854.40,313.05 L854.53,312.65 L854.68,312.26 L854.86,311.88 C855.5,309 860,311 863,309.2" fill="none" stroke="#000" stroke-width="1.15"/>
<path d="M845.4,344.5 C848,346.5 853.5,345 855.00,347.30 L855.17,347.68 L855.33,348.06 L855.46,348.45 L855.56,348.85 L855.65,349.26 L855.71,349.67 L855.74,350.08 L855.76,350.50 L855.75,350.92 L855.71,351.33 L855.66,351.74 L855.58,352.15 L855.48,352.56 L855.36,352.96 L855.22,353.35 L855.05,353.74 L854.87,354.11 L854.67,354.47 L854.45,354.82 L854.22,355.16 L853.97,355.49 L853.71,355.79 L853.43,356.09 L853.14,356.36 L852.84,356.62 L852.54,356.86 L852.22,357.08 L851.90,357.28 L851.57,357.46 L851.24,357.62 L850.91,357.76 L850.57,357.88 L850.24,357.98 L849.91,358.06 L849.58,358.11 L849.26,358.15 L848.95,358.16 L848.64,358.15 L848.34,358.13 L848.06,358.08 L847.78,358.01 L847.52,357.92 L847.27,357.82 L847.04,357.70 L846.83,357.56 L846.63,357.40 L846.45,357.23 L846.29,357.05 L846.16,356.85 L846.04,356.64 L845.94,356.42 L845.87,356.19 L845.82,355.96 L845.79,355.71 L845.78,355.46 L845.80,355.21 L845.84,354.95 L845.90,354.69 L845.99,354.43 L846.10,354.17 L846.24,353.91 L846.39,353.66 L846.57,353.41 L846.77,353.16 L846.99,352.93 L847.23,352.70 L847.49,352.48 L847.77,352.27 L848.06,352.08 L848.37,351.89 L848.70,351.73 L849.04,351.57 L849.40,351.44 L849.76,351.32 L850.14,351.21 L850.53,351.13 L850.92,351.06 L851.32,351.02 L851.72,350.99 L852.13,350.99 L852.54,351.00 L852.96,351.04 L853.37,351.10 L853.77,351.18 L854.18,351.28 L854.58,351.40 L854.97,351.54 L855.35,351.70 L855.73,351.89 L856.09,352.09 L856.45,352.31 L856.78,352.56 L857.11,352.82 L857.42,353.09 L857.71,353.39 L857.98,353.70 L858.24,354.02 L858.48,354.36 L858.69,354.72 L858.89,355.08 L859.06,355.45 L859.22,355.84 L859.35,356.23 L859.45,356.63 L859.54,357.04 L859.60,357.45 L859.63,357.86 L859.65,358.28 L859.64,358.70 L859.60,359.11 L859.55,359.52 L859.47,359.93 L859.37,360.34 L859.25,360.74 L859.11,361.13 L858.94,361.52 L858.76,361.89 L858.56,362.25 L858.34,362.60 L858.11,362.94 L857.86,363.26 L857.60,363.57 L857.32,363.87 L857.03,364.14 L856.73,364.40 L856.43,364.64 L856.11,364.86 L855.79,365.06 L855.46,365.24 L855.13,365.40 L854.80,365.54 L854.46,365.66 L854.13,365.76 L853.80,365.84 L853.47,365.89 L853.15,365.93 L852.84,365.94 L852.53,365.93 L852.23,365.90 L851.95,365.86 L851.67,365.79 L851.41,365.70 L851.16,365.60 L850.93,365.48 L850.72,365.34 L850.52,365.18 L850.34,365.01 L850.18,364.83 L850.05,364.63 L849.93,364.42 L849.83,364.20 L849.76,363.97 L849.71,363.74 L849.68,363.49 L849.67,363.24 L849.69,362.99 L849.73,362.73 L849.79,362.47 L849.88,362.21 L849.99,361.95 L850.13,361.69 L850.28,361.44 L850.46,361.19 L850.66,360.94 L850.88,360.71 L851.12,360.48 L851.38,360.26 L851.66,360.05 L851.95,359.86 L852.26,359.67 L852.59,359.51 L852.93,359.35 L853.29,359.22 L853.65,359.10 L854.03,358.99 L854.42,358.91 L854.81,358.84 L855.21,358.80 L855.61,358.77 L856.02,358.77 L856.43,358.78 L856.84,358.82 L857.26,358.88 L857.66,358.96 L858.07,359.06 L858.47,359.18 L858.86,359.32 L859.24,359.48 L859.62,359.67 L859.98,359.87 L860.34,360.09 L860.67,360.33 L861.00,360.60 L861.31,360.87 L861.60,361.17 L861.87,361.48 L862.13,361.80 L862.37,362.14 L862.58,362.50 L862.78,362.86 L862.95,363.23 L863.11,363.62 L863.24,364.01 L863.34,364.41 L863.43,364.82 L863.49,365.23 L863.52,365.64 L863.54,366.06 L863.53,366.48 L863.49,366.89 L863.44,367.30 L863.36,367.71 L863.26,368.12 L863.14,368.52 L863.00,368.91 L862.83,369.30 L862.65,369.67 L862.45,370.03 L862.23,370.38 L862.00,370.72 L861.75,371.04 L861.49,371.35 L861.21,371.65 L860.92,371.92 L860.62,372.18 L860.32,372.42 L860.00,372.64 L859.68,372.84 L859.35,373.02 L859.02,373.18 L858.69,373.32 L858.35,373.44 L858.02,373.54 L857.69,373.62 L857.36,373.67 L857.04,373.71 L856.73,373.72 L856.42,373.71 L856.12,373.68 L855.84,373.64 L855.56,373.57 L855.30,373.48 L855.05,373.38 L854.82,373.26 L854.61,373.12 L854.41,372.96 L854.23,372.79 L854.07,372.61 L853.94,372.41 L853.82,372.20 L853.72,371.98 L853.65,371.75 L853.60,371.52 L853.57,371.27 L853.56,371.02 L853.58,370.77 L853.62,370.51 L853.68,370.25 L853.77,369.99 L853.88,369.73 L854.02,369.47 L854.17,369.22 L854.35,368.97 L854.55,368.72 L854.77,368.48 L855.01,368.26 L855.27,368.04 L855.55,367.83 L855.84,367.64 L856.15,367.45 L856.48,367.29 L856.82,367.13 L857.18,367.00 L857.54,366.87 L857.92,366.77 L858.31,366.69 L858.70,366.62 L859.10,366.58 L859.50,366.55 L859.91,366.55 L860.32,366.56 L860.73,366.60 L861.15,366.66 L861.55,366.74 L861.96,366.84 L862.36,366.96 L862.75,367.10 L863.13,367.26 L863.51,367.45 L863.87,367.65 L864.23,367.87 L864.56,368.11 L864.89,368.37 L865.20,368.65 L865.49,368.95 L865.76,369.26 L866.02,369.58 L866.26,369.92 L866.47,370.28 L866.67,370.64 C867.5,372.4 866,376 862.8,378.5" fill="none" stroke="#000" stroke-width="1.15"/>
<circle cx="845.4" cy="344.5" r="2" fill="#000"/>
<rect x="494" y="683.3" width="94.20" height="89.90" fill="#fff" stroke="#000" stroke-width="2"/>
<text x="541" y="701" text-anchor="middle" font-size="12" fill="#262626">Fault Output</text>
<circle cx="544.6" cy="729.9" r="18.6" fill="none" stroke="#333" stroke-width="1.1"/>
<polyline points="556.4,752.4 556.4,730.4 541.4,730.4" fill="none" stroke="#000" stroke-width="1.2" stroke-linejoin="miter"/>
<polyline points="541.4,720.4 556.4,720.4 556.4,708.2 705.3,708.2" fill="none" stroke="#000" stroke-width="1.2" stroke-linejoin="miter"/>
<line x1="541.4" y1="739.4" x2="556.4" y2="739.4" stroke="#000" stroke-width="1.2"/>
<line x1="541.4" y1="717.2" x2="541.4" y2="723.8" stroke="#000" stroke-width="1.2"/>
<line x1="541.4" y1="727.3" x2="541.4" y2="732.6" stroke="#000" stroke-width="1.2"/>
<line x1="541.4" y1="736.1" x2="541.4" y2="742.7" stroke="#000" stroke-width="1.2"/>
<polyline points="521,739.5 537.5,739.5 537.5,720.1" fill="none" stroke="#000" stroke-width="1.2" stroke-linejoin="miter"/>
<polygon points="544.3,730.2 551.2,726.1 551.2,734.3" fill="#000"/>
<line x1="544.05" y1="752.4" x2="568.75" y2="752.4" stroke="#000" stroke-width="1.2"/>
<line x1="548.0" y1="758.5" x2="564.8" y2="758.5" stroke="#000" stroke-width="1.2"/>
<line x1="551.9" y1="764.4" x2="560.9" y2="764.4" stroke="#000" stroke-width="1.2"/>
<line x1="705.3" y1="708.2" x2="716" y2="708.2" stroke="#000" stroke-width="1.2"/>
<polygon points="723.3,708.2 716.0,704.5 716.0,711.9000000000001" fill="#000"/>
<circle cx="705.3" cy="708.2" r="2.8" fill="#000"/>
<polyline points="705.3,669 705.3,675.4 710,677.5 700,682.2 710,686.6 700,691.1 710,695.5 700,700.2 705.3,702.6 705.3,708.2" fill="none" stroke="#000" stroke-width="1.1" stroke-linejoin="miter"/>
<text x="704.5" y="666.6" text-anchor="middle" font-size="12" fill="#262626">VCC</text>
<text x="713.3" y="692" text-anchor="start" font-size="12" fill="#262626">R</text>
<text x="722.2" y="694.7" text-anchor="start" font-size="12" fill="#262626">PU</text>
<rect x="627.1" y="27.699999999999996" width="14.90" height="15.20" fill="#fff" stroke="#000" stroke-width="1.35"/>
<text x="646.4" y="25.9" text-anchor="start" font-size="12" fill="#262626">VDRAIN</text>
<rect x="627.1" y="70.2" width="14.90" height="15.20" fill="#fff" stroke="#000" stroke-width="1.35"/>
<text x="646.4" y="70.8" text-anchor="start" font-size="12" fill="#262626">GHA</text>
<rect x="627.1" y="109.30000000000001" width="14.90" height="15.20" fill="#fff" stroke="#000" stroke-width="1.35"/>
<text x="646.4" y="109.9" text-anchor="start" font-size="12" fill="#262626">SHA</text>
<rect x="627.1" y="155.9" width="14.90" height="15.20" fill="#fff" stroke="#000" stroke-width="1.35"/>
<text x="646.4" y="156.5" text-anchor="start" font-size="12" fill="#262626">GLA</text>
<rect x="627.1" y="194.6" width="14.90" height="15.20" fill="#fff" stroke="#000" stroke-width="1.35"/>
<text x="646.4" y="195.2" text-anchor="start" font-size="12" fill="#262626">SLA</text>
<rect x="627.1" y="289.0" width="14.90" height="15.20" fill="#fff" stroke="#000" stroke-width="1.35"/>
<text x="646.4" y="289.6" text-anchor="start" font-size="12" fill="#262626">GHB</text>
<rect x="627.1" y="328.09999999999997" width="14.90" height="15.20" fill="#fff" stroke="#000" stroke-width="1.35"/>
<text x="646.4" y="328.7" text-anchor="start" font-size="12" fill="#262626">SHB</text>
<rect x="627.1" y="374.7" width="14.90" height="15.20" fill="#fff" stroke="#000" stroke-width="1.35"/>
<text x="646.4" y="375.3" text-anchor="start" font-size="12" fill="#262626">GLB</text>
<rect x="627.1" y="413.4" width="14.90" height="15.20" fill="#fff" stroke="#000" stroke-width="1.35"/>
<text x="646.4" y="414.0" text-anchor="start" font-size="12" fill="#262626">SLB</text>
<rect x="627.1" y="507.69999999999993" width="14.90" height="15.20" fill="#fff" stroke="#000" stroke-width="1.35"/>
<text x="646.4" y="508.29999999999995" text-anchor="start" font-size="12" fill="#262626">GHC</text>
<rect x="627.1" y="546.8" width="14.90" height="15.20" fill="#fff" stroke="#000" stroke-width="1.35"/>
<text x="646.4" y="547.4" text-anchor="start" font-size="12" fill="#262626">SHC</text>
<rect x="627.1" y="593.4" width="14.90" height="15.20" fill="#fff" stroke="#000" stroke-width="1.35"/>
<text x="646.4" y="594.0" text-anchor="start" font-size="12" fill="#262626">GLC</text>
<rect x="627.1" y="632.1" width="14.90" height="15.20" fill="#fff" stroke="#000" stroke-width="1.35"/>
<text x="646.4" y="632.7" text-anchor="start" font-size="12" fill="#262626">SLC</text>
<rect x="627.1" y="700.6" width="14.90" height="15.20" fill="#fff" stroke="#000" stroke-width="1.35"/>
<text x="646.6" y="700.7" text-anchor="start" font-size="12" fill="#262626">nFAULT</text>
</svg></body></html>
